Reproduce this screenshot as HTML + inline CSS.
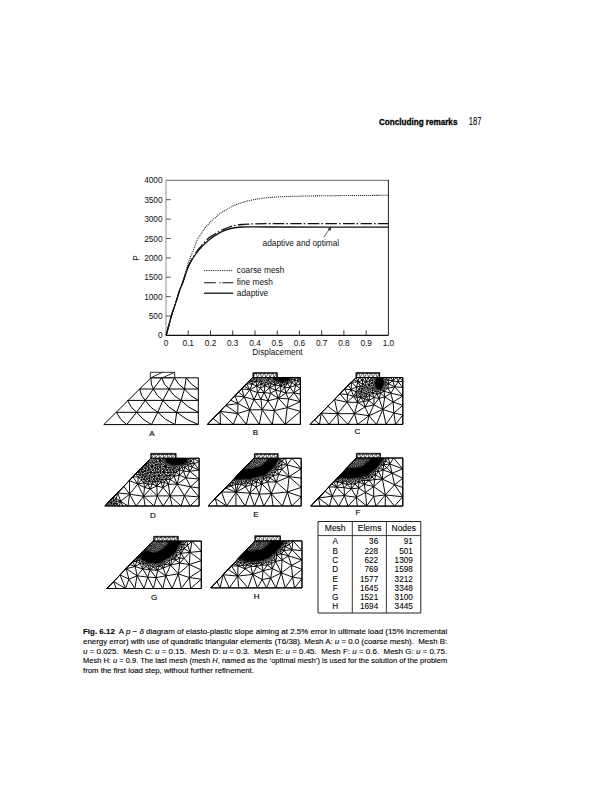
<!DOCTYPE html>
<html><head><meta charset="utf-8"><style>
html,body{margin:0;padding:0;background:#fff;}
body{width:603px;height:800px;overflow:hidden;position:relative;}
svg{position:absolute;left:0;top:0;font-family:"Liberation Sans",sans-serif;}
</style></head><body>
<svg width="603" height="800" viewBox="0 0 603 800">
<g fill="#111"><text x="379" y="125.3" font-size="9.2" font-weight="bold" fill="#000" stroke="#000" stroke-width="0.3" textLength="78.4" lengthAdjust="spacingAndGlyphs">Concluding remarks</text><text x="468.8" y="125" font-size="10" fill="#000" stroke="#000" stroke-width="0.1" textLength="12.6" lengthAdjust="spacingAndGlyphs">187</text></g>
<path d="M166 180.3H388.4" stroke="#666" stroke-width="1"/>
<path d="M166 179.8V335.4" stroke="#9a9a9a" stroke-width="1.1"/>
<path d="M388.4 179.8V335.4" stroke="#222" stroke-width="1"/>
<path d="M166 335.4H388.4" stroke="#111" stroke-width="1.2"/>
<path d="M166 316h4.8M166 296.6h4.8M166 277.2h4.8M166 257.9h4.8M166 238.5h4.8M166 219.1h4.8M166 199.7h4.8" stroke="#444" stroke-width="0.9"/>
<path d="M188.2 335.4v-5M210.5 335.4v-5M232.7 335.4v-5M255 335.4v-5M277.2 335.4v-5M299.4 335.4v-5M321.7 335.4v-5M343.9 335.4v-5M366.2 335.4v-5" stroke="#222" stroke-width="0.9"/>
<g font-size="8.3" fill="#111"><text x="162.6" y="338.4" text-anchor="end">0</text><text x="162.6" y="319" text-anchor="end">500</text><text x="162.6" y="299.6" text-anchor="end">1000</text><text x="162.6" y="280.2" text-anchor="end">1500</text><text x="162.6" y="260.9" text-anchor="end">2000</text><text x="162.6" y="241.5" text-anchor="end">2500</text><text x="162.6" y="222.1" text-anchor="end">3000</text><text x="162.6" y="202.7" text-anchor="end">3500</text><text x="162.6" y="183.3" text-anchor="end">4000</text><text x="166" y="345.6" text-anchor="middle">0</text><text x="188.2" y="345.6" text-anchor="middle">0.1</text><text x="210.5" y="345.6" text-anchor="middle">0.2</text><text x="232.7" y="345.6" text-anchor="middle">0.3</text><text x="255" y="345.6" text-anchor="middle">0.4</text><text x="277.2" y="345.6" text-anchor="middle">0.5</text><text x="299.4" y="345.6" text-anchor="middle">0.6</text><text x="321.7" y="345.6" text-anchor="middle">0.7</text><text x="343.9" y="345.6" text-anchor="middle">0.8</text><text x="366.2" y="345.6" text-anchor="middle">0.9</text><text x="388.4" y="345.6" text-anchor="middle">1.0</text><text x="277.5" y="355.3" text-anchor="middle">Displacement</text><text transform="translate(139.2 258) rotate(-90)" text-anchor="middle">P</text><text x="236.8" y="273.4">coarse mesh</text><text x="236.8" y="285.4">fine mesh</text><text x="236.8" y="295.6">adaptive</text><text x="262.6" y="246.2">adaptive and optimal</text></g>
<path d="M204 270.6H233.2" stroke="#111" stroke-width="1" stroke-dasharray="0.9 0.9"/>
<path d="M204 282.7H215.8M219.4 282.7H220.6M222.4 282.7H233.2" stroke="#111" stroke-width="1.1"/>
<path d="M204 293.2H233.2" stroke="#111" stroke-width="1.3"/>
<path d="M323.8 237.3L330.2 228.0" stroke="#222" stroke-width="0.7"/>
<path d="M331.2 226.6L327.6 229.2L330.6 230.8Z" fill="#222"/>
<path d="M166.2 335.4C167.05 332.20 169.70 321.67 171.30 316.20C172.90 310.73 174.39 306.97 175.80 302.60C177.21 298.23 178.59 293.35 179.75 290.00C180.91 286.65 181.72 285.67 182.75 282.50C183.78 279.33 184.90 274.50 185.90 271.00C186.90 267.50 187.78 264.33 188.75 261.50C189.72 258.67 190.75 256.50 191.75 254.00C192.75 251.50 193.84 248.85 194.75 246.50C195.66 244.15 196.26 241.87 197.20 239.90C198.14 237.93 199.27 236.43 200.40 234.70C201.53 232.97 202.68 231.23 204.00 229.50C205.32 227.77 206.92 225.88 208.30 224.30C209.68 222.72 211.10 221.12 212.30 220.00C213.50 218.88 214.43 218.53 215.50 217.60C216.57 216.67 216.90 215.70 218.70 214.40C220.50 213.10 223.65 211.33 226.30 209.80C228.95 208.27 231.83 206.45 234.60 205.20C237.37 203.95 240.13 203.13 242.90 202.30C245.67 201.47 248.43 200.80 251.20 200.20C253.97 199.60 256.88 199.12 259.50 198.70C262.12 198.28 261.82 198.08 266.90 197.70C271.98 197.32 279.48 196.73 290.00 196.40C300.52 196.07 313.60 195.88 330.00 195.70C346.40 195.52 378.67 195.37 388.40 195.30" fill="none" stroke="#111" stroke-width="1.05" stroke-dasharray="1 0.95"/>
<path d="M166.2 335.4C167.05 332.20 169.70 321.67 171.30 316.20C172.90 310.73 174.39 306.97 175.80 302.60C177.21 298.23 178.59 293.35 179.75 290.00C180.91 286.65 181.79 285.17 182.75 282.50C183.71 279.83 184.62 276.58 185.50 274.00C186.38 271.42 187.08 269.20 188.00 267.00C188.92 264.80 189.88 262.88 191.00 260.80C192.12 258.72 193.50 256.43 194.75 254.50C196.00 252.57 197.34 250.68 198.50 249.20C199.66 247.72 200.07 247.42 201.70 245.60C203.33 243.78 205.82 240.42 208.30 238.30C210.78 236.18 213.83 234.48 216.60 232.90C219.37 231.32 222.13 229.97 224.90 228.80C227.67 227.63 230.43 226.62 233.20 225.90C235.97 225.18 238.73 224.80 241.50 224.50C244.27 224.20 245.05 224.23 249.80 224.10C254.55 223.97 246.90 223.78 270.00 223.70C293.10 223.62 368.67 223.62 388.40 223.60" fill="none" stroke="#111" stroke-width="1.3" stroke-dasharray="11.5 2 1.5 2.5" stroke-dashoffset="0"/>
<path d="M166.2 335.4C167.05 332.20 169.70 321.67 171.30 316.20C172.90 310.73 174.39 306.97 175.80 302.60C177.21 298.23 178.59 293.35 179.75 290.00C180.91 286.65 181.79 285.08 182.75 282.50C183.71 279.92 184.62 277.00 185.50 274.50C186.38 272.00 187.08 269.67 188.00 267.50C188.92 265.33 189.88 263.50 191.00 261.50C192.12 259.50 193.50 257.35 194.75 255.50C196.00 253.65 197.34 251.83 198.50 250.40C199.66 248.97 200.07 248.57 201.70 246.90C203.33 245.23 205.82 242.45 208.30 240.40C210.78 238.35 213.83 236.27 216.60 234.60C219.37 232.93 222.13 231.50 224.90 230.40C227.67 229.30 230.43 228.57 233.20 228.00C235.97 227.43 238.73 227.20 241.50 227.00C244.27 226.80 245.05 226.80 249.80 226.80C254.55 226.80 246.90 226.95 270.00 227.00C293.10 227.05 368.67 227.08 388.40 227.10" fill="none" stroke="#111" stroke-width="1.3"/>
<path d="M150.9 377.8H198.3M139.7 389.0H198.3M127.6 400.4H198.3M116.4 412.3H198.3M103.8 424.6H198.3M103.8 424.6L150.9 377.8M198.3 377.8V424.6M153.4 389.0L161.7 377.8M169.0 389.0L174.5 377.8M184.5 389.0L186.2 377.8M150.9 377.8Q150.6 385.0 153.4 389.0M161.7 377.8Q163.8 385.0 169.0 389.0M174.5 377.8Q177.9 385.0 184.5 389.0M186.2 377.8Q190.7 385.0 198.3 389.0M145.2 400.4L153.4 389.0M162.9 400.4L169.0 389.0M181.0 400.4L184.5 389.0M139.7 389.0Q140.8 396.3 145.2 400.4M153.4 389.0Q156.6 396.3 162.9 400.4M169.0 389.0Q173.4 396.3 181.0 400.4M184.5 389.0Q189.8 396.3 198.3 400.4M136.6 412.3L145.2 400.4M157.8 412.3L162.9 400.4M176.7 412.3L181.0 400.4M127.6 400.4Q130.5 408.0 136.6 412.3M145.2 400.4Q149.9 408.0 157.8 412.3M162.9 400.4Q168.2 408.0 176.7 412.3M181.0 400.4Q188.1 408.0 198.3 412.3M126.7 424.6L136.6 412.3M151.4 424.6L157.8 412.3M175.0 424.6L176.7 412.3M116.4 412.3Q120.0 420.1 126.7 424.6M136.6 412.3Q142.4 420.1 151.4 424.6M157.8 412.3Q164.8 420.1 175.0 424.6M176.7 412.3Q185.9 420.1 198.3 424.6" fill="none" stroke="#000" stroke-width="1.00"/>
<path d="M150.3 377.8H174.7V372.3H150.3ZM150.8 377.8L162.3 372.3M162.3 377.8L174.7 372.3" fill="none" stroke="#222" stroke-width="0.95"/>
<text x="151.8" y="435.7" font-size="8" text-anchor="middle" fill="#000" stroke="#000" stroke-width="0.15">A</text>
<g transform="translate(207.5 424.4) scale(.1)" fill="none" stroke="#000" stroke-width="9.5"><path d="M638-406l38 12 5 52-51 32 78 48-39 124-21 138-130 0-129 0-130 0-129 0-130 0 183-191 226-235 30-31 28 4 18 25-39 25-37-23-19 20-22 23 41-43 40-6-10-25m199 51l-30-1-34 21-44 25-31 43-76-29-33-59 56 3-23 56-55-36-26 28-31 32 57-60-93 97 36-37 57 48-26-80 81 8 42 100-43 101-33 146-87-109-43 109-134-130-125 130 57-59 73 59-5-130 58-61 185-192m270-23l27-17 11 29 35-21 19 31-49 42 27 80 89 95-20 167-129 0-101-146-29 146-96-146-117-63-30-77-42 44-50 51 92-95 93 11 54 129 125 0 122 8 108 138 152 0 0-130-152 130m-139-406l-16 38-48-18-37-16-7 41 36 42 8-67 11-35 23 14 14 39 59 26 53 12-26 68 103 7 118 27 0 98-132-37 132-61 0-75 0-57 0-43 0-33 0-33m-291 63l-17-20m55 32l54 10 43 18 25-44-32 13 7 31-39 36-4-54 36-13m-90 3l13-29m-13 29l-54 26 8 58-25 74 64 98 128-29 14-88 53-61 65 88m-250-241l6 0 4 0 5 0 4 0 5 0 4 0 5 0 4 0 5 0 4 0 5 0 4 0 5 0 4 0 5 0 4 0 5 0 4 0 5 0 4 0 5 0 4 0 5 0 4 0 5 0 4 0 5 0 6 0 8 0 11 0m-148 0l-6 0-8 0-10 0 3 7 7-7 6 6 8-6 1 8-5 5 8 4-3-9 6 2-3 7 6 3 4 0 6 2 2 7-6 4-10-4-20 17m14-46l7 4 3-4 3 7 2-7 5 6 4-6 4 7 0-7 6 4 3-4 3 7 2-7 4 8 0-8 6 5 3-5 4 7 1-7 5 4 4-4 1 5 3-5 5 4 4-4 1 10 4-10 3 7 1-7 2 4 3-4 3 5 6-5 3 7 1-7 7 5 2-5 7 5 4-5 3 5 5-5 5 11-3 10 5 11-25 27 28 39 38 55 65 13m-119-147l8 2 9-5-6-5-5-1 0-10m-6 19l-1-7-8-1 4 5 4-4 7-2-5-5-2 7-5-7-2-5m8 19l-5-3-6 2 2-7-7 2-7-6-9-2 1-5m31 19l-7 4 3 8-8 28-29-7m41-33l5-3 3 5m-15 2l2-7m-2 7l-6 4-8-1 4 11 4-10 9 4m-3-8l-4-5-5-5-8 1 1-7-8 5-5-3-5-2-7 3-2 8 2 5 6 4-2 9-11-2-6-9-9-1 1-5 8 6 8-2 5 0 6-4 0 8 6-3 2-6 5-1 5-3-7-2 2 5 0 6 8 3 5-6 0-7-4 5-1 8-10 6-11-5-9 1 7 8-7 6-5 7-4 10-20 26 2-34 11-5-2-9-8 0-11 2-2-10-8-3-4 10-7-7 5-6-7-1 4-5 7-1 5-5-8-4 3 9 2 10-6-3 4-7 8 4 2 9 8 0 5 8 0-8-5 0-6 10m52-30l4-4 1 7-3 6 5 5-7 1 5 8 2-9 5-3 3 6m-15-17l-3 4-2-6 3-3 2 5m4-4l-6-1m-31 33l6-4 2-8 5-9 6 2-3 5-3-7 8-6-8-2-5-3-5-1-1-4m-2 37l-2-8 10-4 10 3 3-5m-21 14l8 3 5 9-11-3 6-6 6-6-8-1-8-4-6 8m6-8l1-5-6 0-6 5-2-8-6 8m19 0l-6 0 1-5-8-3 1-6-6-1-6-3-2-7-1-4m27 29l-5-5 7-5 3-8 5-6 8-1 0-4m11 19l6 5m-6-5l-8-1m8 1l-6-9-5-6-3 4 0 8-6 1 1 8m19-6l8-1-5-5-9-3m6 9l3-6 8-1m-22 11l2 5-4 6 4 8-10-2-2-7m62-21l6 4 6-5m-5-1l-1 6m-286-16l-16 22-28 19 35 4 26-7-9 29-17-22 15-24m160 12l-1-8 5-3-1-8-5 6-3-6-7 3 2 12 4-9 1-6-4-4 0-6-1-4m-452 227l72 33-122 18 119 82-177-21-68 71m490-87l-82-101 34-71 35 66-69 5-97-28-63 66-3 100 120-37m125 0l58-90 103-26 76-52 80-2 65-44-48-30 48-13-26-31 26-2-17-33-9 35-8-35-23 27 6-27m-331 323l-13-106 71 16-39-83-67 1-6-66 37 23m224-92l-4-5-1-6m-1 12l-4-6 0-7-6 3-6 4-5 4 6 2-1-6-1-6-1-5m18 17l-7 2-4-6-5-2-7-3 2 7m21 2l2-6 4-3m-10 3l-7 2-4 4-7 4-5-7-3 6-6 6-5 2-6 1-7-4-1-5m51-9l-6-4-7-2-6 3-4 6-5 1-1-4 4-4 2 7m23-3l6 0m-12-4l-1 6m127 140l17-74 22-44-31-8-11-27m-154 7l-8-1-1-6m9 7l6-3 6 3 6 1m-18-1l-3 5 6 4 6-1 2 5 8 1m-96 138l-64-9-32 67m347-138l-55 19-53 5 11 52 27 59m70-135l-38-29-45 9m83 20l-9-52-30-10 1 33-17 48-42 57-50-16m52-119l-5-3m5 3l0-6 4 4 4 2 3 7 2-9-5 2m-8 0l4-2m-216 65l-11-31-26 15-44 18-70 37-55 72m321-174l5 5-9 4m102-22l8-2-2-5m-227 150l56-49m112-77l-1-7 8 2m63-14l-3 6-6-6-1 8m10-8l7 0m-7 0l-9 0m-96 1l-7 1-6 3m13-4l5 6-1 5 3 6 1 5 1 8m-9-30l-1 8 5 3m-183 28l-27 40-47-19 3-29-24-10m184-27l-16 24m16-24l19 19m-19-19l2 27m87-13l-8 0 2-7-6-3-6 4-9-2 2-6m25 14l-6-7m6 7l6-2m-33-6l4 7-4 11-7-7 11-4m-190 28l8-26-26 1-18 21 36 4 8 44m379-58l-29 23-20-18m-159-15l-6-10m121 25l2 11"/><path d="M689-423l22 8 21-3 18 8 16 13 3-20-3-16 15 7 17 16-5-22 13-6 17 1 19-15 19-17 17 0 17 0 17 0 17 0m-240 46l-24 0-8-15-16 8-3 24m51-17l6-13 13 3 3 18 11-15 10 12 1-14 10 9 7 13 19-7-15-3m-65-3l19-10 12-7m-31 17l-4-17-14-5-6 22-24-7-13-20 13-19 14 0m206 0l-17 0-17 0 15 17 2-17m-85 42l10 10 12-9 12-6-14-5-13 4m-109-5l14-7 12-7m-26 14l-9-11-7-20-16 0-16 0-16 0-16 0-16 0-16 0-16 0-16 0-16 0-16 0-16 0-14 0-12 12-14 15-16 16m248-12l7-14-16 3-20-1-3-19m217 17l-15-1 0-16-6 11m2 21l4-16m-119 20l14 3m-202 6l-7-23 0-22-20 15 4-15m124 43l-13 19-5-21-10-17 0-24-17 13 1-13m44 43l7-24-17 8-18-3-24 8-23 6 17 14 6-20 16 16 8-24-17-11-15-13-6 17-10-17-10 21-6-21m92 43l-10-16-8 14-18 7-22 4m58-9l20-4 7-19 10-13-17-7m-20 43l-18-2m55-34l13-1-7 11m-197-1l14-16 12 15 20 7 22-1 11 17 9-21 14 15 7-19-21 4-20 4m-68-5l-2-16m2 16l-16-16m367 21l-12 10 4-12" stroke-width="6.0"/><path d="M696-518l-30 49-42 0-42 0-42 0-42 0-42 0 30-49 12 49 30-49 12 49 30-49 12 49 30-49 12 49 30-49 12 49 30 0 0-49-42 0-42 0-42 0-42 0-42 0-30 0 0 49" stroke-width="6"/></g>
<path d="M253.3 377.5V373.2H276.9V377.5" fill="none" stroke="#111" stroke-width="1.3"/>
<path d="M207.5 424.4H300.4V377.5H252.6Z" fill="none" stroke="#000" stroke-width="1.0" stroke-linejoin="round"/>
<text x="255.5" y="435.0" font-size="8" text-anchor="middle" fill="#000" stroke="#000" stroke-width="0.15">B</text>
<g transform="translate(310.0 424.4) scale(.1)" fill="none" stroke="#000" stroke-width="9.5"><path d="M668-389l-10-1 9-5 2-6-7-7 0-11-1-11 11-2 6-8 0-8 6 0 8 2 0 4 4 1-4-5 4-5 4-1 4-5 7 4-5 3-6-2-4-6 0-11 4 0 4 0 5 0 5 0 7 0 11 0 1 12-11 1-6-5 5-8m-53 80l-1-6 6-1-4-5 2-7 6 0 4-5 8 0 7-1 8 0 6 2 1-5 1-7 0-5-5 1 5 4 6-2-6-3 5-4 4-6 10-4-5-7-4-6-6 1-5 2-1 7 3 7 8 0 6 10 10 7-8 3-7-1 3 7 4-6-2-10-5 9-4-6 9-3-10-4-4-6-7-1 4-6-4-4-2-7-8-1-7-4 7-7-5 0-4 0-5 0-5 0-7 0-10 0-11 0m19 80l-2 7 9 3 7 1 2 7-3 5-8 5-12-2 6-9 8-7 0-8 6-5 5-4 4-6-5 0 1 6 5 5 6 4-6 2 0-6-5 1-5-2-4-5-4 1-1 4-5-3-5-4 0-9-9 6 1-11 8 5 9 0 5 6 1-6-4-6 8 1 5 5 4 6 8 3 5 5 6 2 0 7-2 7-6 0-6 0-4-7-3 6-6 1-5 6-4 11 11 3-3-8 6 1-3 7 7-2 7-1-5-4 3-4 2 8 6 8 9-6-2-11-4-8 7 0-5-7 5-4 8 1 8-8 5-8 8-6-11-2 5-10 2-12-8-9-8-2-2 6-4-5-4 5-5 5 4 5m-44 40l7 2-9 5-8-8 4-9 7-2 7-1-3 6 3 3 5 1 3 7-2 7-2-6-5 5 2 7 4 6m-13-23l4-3 3 5 1-6 1-4 4-2 0 7-1 8-5-3m34 2l-6 2-6-4 0-6 6-1 3-5 6 0 6-2 6-5 11 2-3-8-3-7m-20 34l-6-4-6 2 0 5 4 4 2-5 4 5-4 7-5 10 8-1 7 3m-4-26l7 2-2 5 9 5-12 3 3-8m71-29l62 32 81 90 0 95 0 95-73 95-95 0-95 0-95 0-95 0-95 0-95 0-95 0-95 0-95 0 45-46 50 46 17-113 78 113 87-107 8 107m500-407l-28 4m28-4l-6 45 68-13 81 5 0 85-120-27 39-63 35-50 46 55 0-60 0-39-30 0 30 39-46 5 16-44-30 0-30 0-30 0-30 0-29 0m36 62l-30-18 26-18 27-26 20 33 40-33 14 44-54-11 10-33m-53 62l-27 24 21 21 29 50-60 38-20 124-63 150-75-87-115 87-30-108-65 108-103-107-32-142 169-173 26-26 21-21 30 0 30 0 30 0 30 0 30 0 13 27 9-27m152 62l-4-36-3-26-27 21 30 5 47 7 19 61m-62-32l43-29m-383 328l105-67 89-20 89 45 32 150 79-114 16 114 73 0 0-95-89-19 89-76-97-34 97-61m-483 177l-168 1-99-74 236-241-31 32-37 38 68-70-114 117 46-47 66 4 2-74-369 376 133-135 67-68 55-56 70 83-125-27m200 141l-75-114-93 115-165-6 66-68m267 73l31-112 74 45 39-65 50 45 52-65 37 110 111 36-8-110-103 74-138 63-20 87m-125-108l145 21-40-88-14-53-27-39-33 47-106-2 65-58 41 60 60-8 53-12 9-49 26-23 32-20 30 2 20 19 42 37-57 14 15-51 3-30 31 9 68 20 23 88-83-50-8-58 39-30-36-1-3 31-34 21-37 8-13-29-32-9 0-27 15-24-17-20-32 13-15 31 7 27m100-37l6 4-4 3 3 6 6 0-3-4-6-2-7-1-10 0-1-10m-121 18l30-4-21-22 36-9 10 24m-55 11l9-26-28-14-46-21 11-44 34 29 26-29 11 43 19-43 17 36 13-36m-66 105l-27 7 20 17-25 13-26 2-26-1 3-50-50-46 66-3-19-44m57 112l-28 6-26-25 16-49-40-23m78 91l-15-25-39 6-52 28-29-42m135 33l-5 30 27 12 26 10 32 16-33 12 24 37-41-16-39-11-37-2-37-11-23-68 49 22-26 46-59-19-30-53m175-117l4 29-45 15 23 43 23-22-1-36 37 14 28 27 25 10m99-25l-4 2 4 2 3 4 1 5-2 6-4-4 5-7 7 0 1-7 7 1-8 6 6 10-8-2-4-3m-4-13l-3-3-7 3-4-5-4 5-3 6-3 6 2 6-6 0 0 6 5 5-7 0 4 6 7 1-2 4 3 5-6 0-3 4 4 5 2-5m21-49l0 4-4 5 0-7-4 3-2-5 2-7 1-7-5 2-6-5 1 7 5-2-2 7-3-5-6-2-4 3-2-6 0-7-7-4-10 0 4 8 7 0-1-8 6-8-3-5-3 5-6 0-2-11 7-10 4 8 6-8 2 7 2-7m23 55l2-5 6-1-3 8 5 6-2 8 0 10-6-7-2 6-5-3 3-7-2-6 7-1 2-6 6-1m-11-1l5 2-5 2m-126 92l10 29 42 20-1 74-49 108m-2-231l36 6 0-29m-36 23l-27-10m145-81l-3 5-5 5-1 6-6 2 1-5 5 3 6 4 0-5m3-15l-6 0-4-5-4-5-5-4-6-3-4 4-4 2 2-6-3-6-4 8 5 4 0 6-2 6-4-5-5 5m44-1l4 4-7 1-3-5 4-5m-228 194l-4-49-8-25-29 14m257-139l-3 6-3 5-1 6-4 3 5 3m6-23l5-5m-5 5l8 0 6-2 5 4 5-2-4-5-6 3-4-5 0-6 5 4 1-6-2-6-6 3-4 6-6-1-5-4-6 4-4 6 2 4 4 2 0 7-4-5-4-2-5 2-6-1-8 6-10 1m48-7l-1-7 5-5-4-6 0-5-5 0 5-4 9 1-1-7m-8 33l-6 2-5 4 0 8-4-3m13 6l6-3 7 1 3 5 3 7 7-3 6-3m-18-59l3-6 2-6 2 5 3-5 2 8-5 3 0 5 6 4 5-7m-18-1l7-1-4-5-3-6-3 5-1-5m4 12l-3-7-5-5m-6 37l-5 3-6-3 2 6-6 0-7 2-7-6 7-10-3-8 5-11 0-10m20 37l2-5-7 1 2-6-9 2-6-8-4 8-10-2 3 12-8 8-8-9-23 19 2-30-26 9-8 34m100-33l1 6-6-3-4 3 0 6 6-3-1 6 3 4 4 5-7 0-5 3 4 3m-110 34l26 15 23-15 27-6m35-43l-5-3-4 2 0-4m23-15l-4-4 5-4 5-5m-6 13l1-8 5 5m-6 3l-8 0 4-4m4 4l2 5-6 1m4-6l8 3 9 1 1 7-2 7 3 7m-27-25l-5-5-3-6 6-6-1-8-8 1 1-8m35 25l-7-2-9 1-5-6 0-7-6 4 2 8m25 2l6-1 3-5 7-7m-16 13l0-5-7 3m-410 141l76 6-6 77m196-83l-1 28-20-17m79-74l23 15m-58 113l51-29-16-43 45 9 17-27m3-132l-4 6-1 8m-220 154l-3-32 29-25-3 26m219-37l5-8-8-1-2-7-3 4-2 5 7-2 3 9-2 9-11 4-2-11m17-74l-6 2m-26-22l2 6m-2-6l-6-5 11-2 0 8-5-1 5-7 4 5-4 3m-5-1l-4 6-7 0-8-7m-545 342l-67 67m635-338l4-1 2-5m36 2l-6 5 7 10m-7-10l-2-6m12-61l-9 1 6 4m-27-13l5-6 6 1 4-1 5 3 0 6-5-3 0-6m-20 79l6 3-2 4 3 4-5 0-5-5 0 5 5 0-3 5-2-5m9-8l6-1 0-6 6-3m31 60l-15-22m-48-64l-4 4-6 1-5-6 6-5 0 6-1 5m29-38l-6-3-5-2m-32 54l9 3m-8-14l-1-9 9 3m11 5l-5-4m8 16l1 5m-1-5l5 3 0-6-5 3m22 3l-6 3m6-3l8 0 4-6m-12 6l-2-6-3-3 7-1-4 4m-72 93l-21-20m114-117l-1-6m-51 7l-7 6m-246 94l-36 49m137-28l-14 25 10 35 14-29-10-31-23-24 13-31 26 4 25-12 8-36-36 22 3 26m147-15l-4 1m-110-34l36-7 24 21m-86 184l12-28 17-21-28 0-28 10-25-20m219-84l-5-3m-7 114l-51-9 29-34 22 43"/><path d="M664-350l-8 18-9-21 17 3 9-11 4 15-13-4-3-13-10-11 7-16-19-2-24 3 9 21-24-7-25 7-15 19 22 8 6 23-22 13-21 11-5-21-2-25 7-24-16-14-11 21m143-6l-14 10-23 12-21 9-21-9-21 13-23-12 22-9-15-15m99-48l1-19-21-11 18-9 7-18-16 0-22 0m33 57l-5 20 12 18-4 21m-3-59l-22 0-7 23-15 14 1 22-19 12m62-71l9 10 5 12m-14-22l9-10m78-21l20-5-2-21-17 0-10 13-1-13m10 26l-4 14 12-5 12-14 4 23 2 22-14-7 12-15-18 3 6 12 1 15 13-8 1 20-15 20-18 9-16 13-23 11-9-16-21 14m75-111l2-14 16-12m-26 96l20 10-7-19 22-1-14-12-9-9m-12 31l2 19-12-5-4 18-5-12m19-20l-1-15 14 6-13 9-10 14m-40-2l-6-11-16-2 15-8m-129 105l8-17-22-2 17-19 21-13 5 23m-29 28l-14-19-24-6-12-23-9 18-17-19m76 49l11 21m150-105l-5 12-7 19m7-19l-9-9-7 12 16-3 16 8m-231 34l21 5-15 15-12 18m6-38l-14 13 20 7-6-20m277-118l-16-9m12-14l-18-9m-172 129l-1-21m97-106l3-14 10 10-13 4-8-14m8 14l1 13-13 11 16 1m-4-25l-15 4-9-18m6 77l14-10m-8-29l-3-20 16 9m-70 124l15-14-2-21 23 12m120-54l-14-1 6 14 8-13" stroke-width="6.0"/><path d="M696-519l-25 50-42 0-42 0-42 0-42 0-42 0 25-50 17 50 25-50 17 50 25-50 17 50 25-50 17 50 25-50 17 50 25 0 0-50-42 0-42 0-42 0-42 0-42 0-25 0 0 50" stroke-width="6"/></g>
<path d="M356.3 377.5V373.1H379.4V377.5" fill="none" stroke="#111" stroke-width="1.3"/>
<path d="M310.0 424.4H402.8V377.5H356.1Z" fill="none" stroke="#000" stroke-width="1.0" stroke-linejoin="round"/>
<text x="357.5" y="433.9" font-size="8" text-anchor="middle" fill="#000" stroke="#000" stroke-width="0.15">C</text>
<g transform="translate(104.8 506.0) scale(.1)" fill="none" stroke="#000" stroke-width="9.5"><path d="M745-415l-10-6-8-1 3-4-4-6 7 0-3 6 5 5-5 6-3-7-6 1-1 9-10 2 4-10 6 8 10-3 2 11m13-11l-4-7 3-4 5-5 9 3 8 7 5-6 5-3 7-2 6 10 4-10-10 0-7-7 0 9-7-4-6-5-1 6 7-1 2 7 7 6-12 0-1-7-3-5-4 5 7 0 6 1m-26 12l6-9-7-2-7 0-7 0-7-1 3-5-3-5-4-4-6 0-4-9-3-9-8 2-6-5-7 3-8 2-1 7-2 6 4 7 4 8 6 0 3 4-6 1-3-5 6-7 8-3 2-9-7 5 5 4 6 5 2 6 6 3 2-8 1-8-6 4 5 4-5 2 3 6-8 4 2-7 3-3-5-3-4 7 6-1m40 2l-4-7 0-7 6-4-4-5 0-6 4-5 5 7 1 6-6 3-8-2 2 6-5 3-2 5 4 6-2 5 6-1-4-4 3-7-7 1-4-5-3 5-8-2-5-7 2-7 7 0-2-6 3-7 2-8 0-8 5 0 4 0 5 0 4 0 5 0 4 0 5 0 4 0 5 0 4 0 5 0 5 0 5 0 7 0 9 0 10 0-9 7-1-7-8 6-1-6m-130 56l7 4 1-10-8 6-12 3 6-10-1-8 8-2 3-6 8 0-4 6-7 0-4-6-4 8-8 5 9 3 6 7 1-7-7 0 4-5-5-3-1-7 1-7 0-7-2-7 0-8 5-5 4 0 5 0 4 0 5 0 4 0 5 0 4 0 5 0 4 0 5 0 4 0 5 0 4 0 5 0 4 0 4 4 5-4 0 7 5-7 3 4 6-4 4 7 0-7 5 5 4-5 0 8-4-3 0-5m-62 57l-4-5 7-2-3 7 1 10-10-6 5-9 3-7 2-7 6-1-4-8-4-5 4-4 1-8-7 3 2-8 4-7 3 5 6-5 5 5 4-5 2 8 3-8 4 8-7 0 5 8 6 0-4-8 4-4 1-4m-35 57l-9 4-1-8 3-5 0-7-10-1-8-1-4-6-7 0-4-6-6-4 6-3 4-3-6-4 5-3-5-5 0-5 5 0 1 4 3-4 3 7 2-7 6 5 3-5 5 5 4-5 3 5 6-5 0 7-6-2 1-5m6 57l7-1-4-6-4-5-6 3m-508 429l-36 0-26 0m62 0l52 0 81 0 90 0 90 0 90 0 90 0 90 0 90 0 90 0 0-90-90 90-57-103-33 103-111-101-69 101-59-101-31 101-105-97-75 97-65-118-16 118-73-47-15 47-24-22-23 22-3-27-16 27-13-32-5 32m120 0l-21-47-31-85 62-65 226-234 29-30-408 422 379-392-44 46 30-31m472 27l69 29 0 90 0 90 0 90-86-102 86 12m-69-209l22-34 47 63 0-83 0-34-61 0 61 34-47 20-14-54-34 0 15 28 19-28m-8 88l-24 42 93 77-130-11-90 62-88 2 20-48 68 46 134 27 86-78m-69-119l-45-17-27 19-31-1-25 27-1 53-22 89 73 116 147 13m-69-299l-19-34-25-12-1 29 21 59 93-13m-114-46l-27-14 0 33 48 40-37 66 44 89-61 89-144 2 21 101m156-406l-14-27-5-10-8 6 0-10-8-3-8 1 0 6-6-2-6-1 2 7-7 5 0-9 5-3 4-5 8 2-6 4-4 6-7-4-6 4 0-9 6 5 1-8 4 5m55 40l26-17 41 0-33-26-8 26m-103-18l-6-3 1-7 4-2 7 2-6 4-5-4-5-4-5 3 5 3-4 3-5 4 7 2 6 2 0-6m6 3l0-6 6 4 5 4-8 3 7 3m-10-8l3 5 3 8 0 11 8-4m-14-20l6-2 5-5-5-3 0 8-3 7-6 5-9-2-5-4-2-5-8 0-3-6-3 7-4-7 5-6 7 0 2-7 3 6-5 1-5 6 8 0 2-7 5 3 1 6-8-2-3-6-4-7-6 0 1-8-6 5-6 5-7-6 2-7 2-5m49 36l-6 3 3 7 2 7 7-4m-149 35l-3-31-24-13-32-14 14-26m45 84l-7 27-8 28-1 27m16-82l33 11 26-2-15 25-20 25 19 29 3 40 38-31 30 77-71 118-17-116-53 33-58 83-69-69-58-16-68-33-47-73 26-27 108-112-73 76 29-30 14 22-28-7 18 28-33-13-35 36 20-20 26 29-46-9-118 122 92-95-36 38-56 57-105 109 43-44 120 14-2-136 83 35-81 101-58-79-153 158 48-49-21 22 1 34-28-7-25 26m597-380l15-27m-15 27l29-12m-29 12l-22-22m22 22l-29 22-27-17-15-31-31 6 19 18 12-24 12-32-7-26m66 84l15 31 9 28-39-4-22 29-34 7-36 2-11 30 14 27 28-2-13 45-65 30 19-51 31-22-28-5 14-22 30-3-16 30 15 43 4 99 128 0-70-83-62-16-46-21 3-27-31 0 1-29 2-29-18-24 31-9 21-22-10-36-32-18-10-31 28 14-14-29m164 68l-32-3m-462 322l13-58m-13 58l-30-14-35 36m65-22l44 27 89-71 140 21 15 97m-288-74l-26 19-4-33m30 14l-1 28 45-1-39 25-26-5-29-5 24-23-25-11m746-377l-8-4-7 5-1-8 0-8 7-1 8-5-7-6-9-1-8-6 0 8-5-8-3 7-2-7-4 6-1-6-4 5 0-5m44 34l1-7-9 3-2-6-6 3-4 6-4-5-3-8 4-3-2-9 8-2 4 7 5-6 0 6 7 0 6 8 6-9-12 1-3 9-5-4 1-5-5 0 4 5-1 6-6-5-7-2-8-3 6-6-8-1-4 6-2-7 6 1 2 7-6-1-7-1 5-6-5-1-5-5m49 34l8-3-3-10-9 1-4 8m-162 6l-5 1 4 5 8 4-9 7 1-11-8 1-10-1-2-9-8-7 9-1 0-8-6 3-3 6-4 11m33-1l-1 6 6-3 2 7 3-9 5 4m-15-5l4-3-1-6-2-7 8 3-6 4 7 3 5-3 7-2-7-5-7-3-7 3 3-6-5-1-6-3-7-3 1-7 6 0 6 0 5 0 5 0 4 0m-13 36l-4-5-1 6-4 6 7 10m2-17l5 3-1-6 6-3-1-7-1-6 5-4-7-4 3-9 4 5-7 4-2-9-5 6 0-6-6 4 0-4m55 41l-3-4-7 3 2-7-4-6 7-2-6-5 3-5 5 3-2 7 3 6-1 6 6-3-5-3-6 2-6 0-4-5 6-1-6-4 7-3-2-5-4-4-6 2-7-3 1 7 6-4 0-6 6 4 6 0 3 4-5 0 2-4 4-6-1-5m8 41l3-7-1-7 8 2 8 4 7 3m-25 5l6 4 8-2 5-3 0 6m-53-12l5-1 3-8 4 8 4-5-8-3-3-8 6 1 0-5 6 4 6 3m-23 14l-4-4 0 7 4-3m31 3l-5-4 3-8 7-4 2-6-7-4 3-6-7 0-8 0-2-5m54 8l9-1-5 9 8 1 5 5m73-1l-4 6-5-5-6 2m-276 352l-136 4 67-73-24-46-34 30-7-46-61 13 5-72-26-28m89 133l-9 89-59-122 36-40 7-28-38-4-52-1m96-21l-6 26-18-23-20 19 31 32 25 27 26-14 30-2 28 27-43 5-41-16 5-34-23-21 30-8 2-27 27-8 3-27 5-28 2-30-25-16 1 27-30 4 20 23-35-8m6 72l26-9-28-20 31-5-21-16m-8 50l-2-29m2 29l-22-17-13-25m35 42l24 18 19 25 26-7 24-12 20 19m303-188l3-6-6 0-6-5m9 11l-5 3 5 5m0-8l-3-6 2-7m-428 212l30-7 21 20 15 30 15-32-25-22-26 4 7-29 27 4m109-11l20-26-28-8 8 34 24 16m-24-16l-17 29-19-27-4-31-15-30 20-22 4-30-34 16-34 12-32 8 27 20 28 18-13 33 28-8 25 14-31 11-22-17m89 4l10 34-15 23 28 9-41 36m270-244l5 2 7 5-9 5 2-10-6 4-6 6-5 11-2-9m14-14l-4 1-3 4 0 7m7-12l-1 6 4 6m-362 102l-24-17 27-10 24-10-19-18-22-19 24-11m-34 68l0-30 10-27m339-63l-4 4-6 3 1 9-5 2m14-18l1-5-5 2 0 7 7 0 7-2 3 6 4-5 2 7-6-2-6 2 0 9 7-3 5-6 8 0-4-6-4 6 3 6 2 6 3 6-7 0m-20-28l-4-3-5 2 1-9m8 10l3 4 4 6-5 6-3-6-4 4m5-14l5-2 5 4-3 8 7 6-1-8m20 4l-3 6m3-6l-2-5 4-4m-2 9l-6-2-5 6-8 0m-176 113l-36 10-1-26-4-34-27-7 3 26 24-19 11-30-26-1-21-24 5-34 28 26-33 8-10 30-21-18-13 34 30 14 26 14 1 33-32 5-36-8 15 25 21-17 10-24 22 19 27-18 37 16-14-33-23 17-28-15m65 31l30-24 18-20 19-22m-67 66l21 33 18-29 31-1-12 30 41 9 52-12 68 27-26-66 15-40m-161-70l-2-7 7-4-2 5 4 3-2-8-7-3-6 4 0-6-6-4-8 0-9 0-12 0m43 20l-8-2 0-8-6 4-7 3 0-8-1-9 7 7 7-3 6 2 0 7-6 5-2 7-4 4-7-4-6-5-6-7m33 7l-5 4-5 1 5 6-9-2-8 4 1-8 6-3-6-5m163 21l6 1-3-5m64 96l-63 0-42 39-28-28-24 40-4-38-7-31 23-16m-72-78l-6-4-1-7-6 2 7 5-1 8 5 3m2-7l3 6 7 3-7 4 8 2 6 4-5 2m-12-21l-7 4 1 7 2 7-8 6m168 13l-11 1m-376 126l22-14m257-163l4 6 0 7 5 3 8-1 5 5 3-7 0-9 1-9m-34 5l-2 6 0 6 4-2m-2-10l4 6 8 0-5 4m-7-10l-8 2-7 3 1-6-6 1m6-1l6 3m20 46l-8 2-8 5 5 5 6 9m37 67l29-25 2-33m-31 58l-28 2 14-22m14 20l3-28 26 3-19-24m39-80l0-7-5 3-2 6-4 6-3-6-5-5-1 8 9 3 8 0m-77 11l4-4-7-2m-96 162l-11 25-15 29 21 52 14-55 39 22-22-51 42 3-22-21 19-19-37 0 18 19-20 18-17 29-35 3-13-32-27-5 12 28m54-45l26 22-37 3 20 26m-9-51l28-15-2 37m-37 3l-28-3m207-168l-9-2-6 5m6 72l41 14-16-41m-136-52l-6-1-10-3m79-4l5-4 6 2 6 2-2-8-7-3m-4 19l0 6m0-6l5 3-1-7 3-6 4-6 7 2-3-7-5-3 0-8 0-5m-10 37l4-4-3-8-9-1-4-3 0 6 4-3m24 19l1-7 6-1 5-6 3 6-4 5 6 0m-17 3l-6 1 5 6-7 2 4 5 7-1 9 6m-12-19l5 7 4 5m-9-12l5-3 2-5 4 5-6 0m-5 3l-1 7 4 6 2-6-6 0-3 7-7 3 3 7m27-50l-5 5m5-5l9 0-5-6 1-7 1-4m-6 17l0 8-7 4m7-12l-3-10 8-3 5 5-6 2-7-4-5-3m8 13l4-6m-81 33l3-5 4 5 3-5 2 5 6-4-2 7 6 1-5 7-7-5-3-6-7 0 3 5 7 1 2-6-5 0-4 5m47 3l-3 8-5-4m16-48l-6-3-6 4-5-4-7 2 5 5 7-3 6 4 1 8 4-5m-24 165l-19-21m67-105l10-2 7 7 1 12 11-4m-139-25l-2-7 7-5 0-7m46 88l-29 6 11 24 18-30 7-26m-24-68l6-1-1 6 0 5m-5-10l-3 7 8-2-5-5m29-11l-9 4m-357 127l28 9m90 82l20-18m110-193l-26 8 14 33 18-19m-120 98l-4-28 15-30-14-35 27 1 31-12-24-12m177 28l6-3 1 8 9 6m-10-14l-4-3m5 11l-3 10m-21 53l-29-3m145-72l-4 6m-279-3l-16-23m33 71l5 28m320-97l-10 6-7-4m-788 450l2-26 17 26m52-27l-5-28 25 9-20 19"/><path d="M621-435l-15 11 18 4-3-15-14-5-1 16-19 9-23-3 13 22-24 8m71-32l14 15 4 23 11 23m-29-61l14-4 0 19 12-13 11 14 19 1-12 19-7-20 8-13m-45-3l7-14m-594 395l13-13 14-14m-27 27l-12 13-13 13-12 13 23 0 19 0 18 0 18 0 19 0 21 0 2-22-6-24m-77 7l10 20-5 19m5-19l13 19m-13-19l-22-7m22 7l18-13-15-20m588-353l23 1 1-17m-64-56l-14 0-20 0-21 0-21 0-21 0-21 0-19 0-16 16-14 15-15 15-14 15-15 16-15 15-14 15-15 15-15 16m270-138l-6 12-8-12-8 18-12-18m34 0l10 13 2-13 10 9-12 4-16-1-16 6 6 22 5 22-10 19 3 25 22 5 22 4m-16-102l3 13-15 0-4-14m16 1l12 4m-12-4l-12 13-14 14 25-3-11-11-20-8m252 7l2 17-15 2-13 13-16 13 16 20m26-65l12-9 8-16-22 0-15 0-2 13m19 12l-13-4m13 4l-7-13 5-12 14 16 23 12-19 5-14 9-12-11-3 13-13-4 0 17-13-2-3 15-15 19-23-6-3-21 14 10 12 17-1-21 16 2-8-14-8 12-4-12m62-31l16 8-4-17-19-4-10-12m-108 79l2 17 15 17 7-21 21-9 11-11m-56 7l7-12-14 0-16 7 9 12 16 10 22-4 5-19 13-11-15 0m-27 17l-7-12-7 19-21 7 14 19 21 9 2-25 11-17 11 13m-24-13l-14 7m14-7l13 0-6-12m10 46l-17 8 14 20m-247-118l10-23 13 22 8-22 8 16 13-16m-52 23l-9-23m9 23l-25-7m25 7l23-1-7 24m-16-23l-11 22-18 17m239 12l6-13-12 4-13 8m-14-27l3 13-12-6m206-20l11 21m-85 14l-12-8-13 2m-13 11l16 10m-16-10l-12-8-4 14 16-6m-139 93l-21 2-14-19m35 17l-6 21-15-19-10 23 14 21m17-46l22 6m92-112l-11 7 6-11m-115 131l-25 4-14 18m104-37l22-12 15-17-25-1 10 18m128-103l-9-12m-186-8l12-4m-607 431l11 13m379-416l15 12m121 102l-20-15-16 17m-4-31l20 14 12-19m-53 22l-6 25-5 23 25-4m2-185l16-6 8 18m-59 76l25 6 25 6 21-14m-3-26l-23 12m-96 36l-3 25 20 13 25 3-20 15 18 14 19 11 11 18m-61 2l5-24 8-21-5-18 7-21m-24-47l-21 14-10 21-20 12-2 20 24-3" stroke-width="6.0"/><path d="M711-526l-40 49-42 0-42 0-42 0-42 0-42 0 40-49 2 49 40-49 2 49 40-49 2 49 40-49 2 49 40-49 2 49 40 0 0-49-42 0-42 0-42 0-42 0-42 0-40 0 0 49" stroke-width="6"/></g>
<path d="M151.1 458.3V454.0H175.7V458.3" fill="none" stroke="#111" stroke-width="1.3"/>
<path d="M104.8 506.0H199.1V458.3H150.9Z" fill="none" stroke="#000" stroke-width="1.0" stroke-linejoin="round"/>
<text x="152.8" y="517.7" font-size="8" text-anchor="middle" fill="#000" stroke="#000" stroke-width="0.15">D</text>
<g transform="translate(208.0 506.0) scale(.1)" fill="none" stroke="#000" stroke-width="9.5"><path d="M335-216l-55 78-94 138-93 0-93 0 264-275 73-76 103-107 19-19 11 0m-135 261l-33 0-22 78-1 138-93 0-51-140 39-41 44-46 46-48 28-29 45-47 28-29 75-78-28 30 19-20m-96 232l40 24-95 54 92 138-93 0m56-216l-1-36m1 36l34-11 29-5 39 17 48-24 53 17 95 98-75 124-93 0-93 0 46-128 47 128 49-119 44 119 93 0 93 0 93 0 95 0 0-93-95 93-43-140-50 140-111-124 18 124m-316-216l22-30m-22 30l-20-27-13 27-27 0 5 78-106-43 26-27 18-19-145 151-73 76m431-308l7 5 3-8 7 4-10 4-2 10 8 5-1-8-5-7-10-1-6 1 1-8 8-3 0 6-8-3 5 7 3-4 5-2 2 7-10 6 8 4 7-3 6 2-5 6-7 4-1-9-8 6-6 7-10-3-4-7 4-7-7 1 3 6 7-1-3 8 3 9 7-6-2-7-8 4-7 8 10 1-4 11m17-41l0 7-6-6-3 6-7 0 3 6 4-6 9 0 0 10 9 3 6 9m-47 10l-1-12 0-8-6 4-7 9-9-8-3-9-9 3-3 9-5-10 8 1 1-8-5-7-6 5-6-4-8-3-6-7 7 0-1 7 5 7 3-4 5-3 7 2 8-1 6-1 7 3 3-6 7-2 5-8-1-9-1-8-5 0 1 5 5 3 10 1 1-10 6 3 2 6 7 2-2-9-5 7 0 6 7-4 6-5-8-4 3-12 3-10 5-2 7 4-2 8 3 6 6 4-9 2 3-6 5-6-6-8 4-8 6-6 4 9-10-3-5-8 11 2 9-3 8-2 9-4 10-1 8 2 0 8-4 4 8 2 0 8-6 4-1 6 1 7-8-3 7-4 10 0-9 7-2 8 8 5 10-4-9-5-1 9-8 4 0-9-8 1-4 6-2 6 6 6 5 5 0 8 12-2 9 7 2-11 9-5-4-8 3-8 12-1-4-9-4 4 8 5 2 10-2 10-11-3 4-9-8 1-4 6 8 2 7-3 4 6 10-4-8-6 10-4 12-2 11 3-3-8-8 5-4 11-10 1 2-10 8 9 8-3 7-5 9-2 9 2-7 10-2-12 5-10 10-6-8-4-2 10-9 1-5 11m-164 39l10 2-2-9 9 1m-17 6l-6-4-7-2 0 11-10-1-6 8 0-10-8-2-10-1-8 2-5 9-9-1-9 3 5-10 2-8-4-6 0-5-8-2-6 4-8-2-4 6-3 7 6 5 10 3 9-5 8-5 6-2-3-6-3 8-7-2 3-4 7-2-7-3 5-6 2 9 6-5 4-7 6-3 2 6m50 23l8-7 5-6-9 0-4 5-5-4-5-7-7-4 6-2-3-4-6-3 2-8-7-5-6 5-7 3-6-5-7 1-6-4 3-6-8 0 5 6-7 3 0 9 6-6 7-2 6 5 1-6 5-3 1 8-7 1-2 4 2 6 1 7-9 0-3 6 5 5-4 9-4-8-6-1 3-5-6-1m10-12l-6 0 0-7-8-4-5-6-5-5 3-4 21-22 4-4 24-25 28-29 47-49-37 39m216 28l5 7-8 5-6 4 7 2-1-6-6-4 0 8-5-3 5-5-2-7-4-6 0-6-6 3-7-2-5 5-1 9-6 1-3 5 0 7-9 1 1 8-4 7 4 7 8 0 4-7 2 8 7-2 5 5 9 0 2-11 9-2 7 9 11-4m-13-36l7-2-2 9-2 9-6-4-1-8 9 3 5 8 7 9 2-11-1-8-4-8-7 1-8-5 1 7-4 4-7-3-5 6 7 1 5-4-2-6 6 2m-309 69l6-7 7-7 4-4 3-3 7-8-3 4-4 4 1 7-4-4m-17 18l3-3 7-2 0-5 3-4 8 0 6-5-3-6 5 1-2-5 7 2-3-6 6-6 18-19 19-19m-74 77l-4 4-3 4-4 3 7-7 8 4-4-8 8 2-4 6 4 8 7 6 6-3 2 7 9 0 4 5 5-5 2 9-5 9-4-7 9-2 9-7 8 5 7 3-4 6 9-3-5-3 0-6 1-8-3-9-4 6-3-6-4-8-1-7 7 2-4-7 4-7 6-6-2-8-10-2-8 4 5 3-4 5-1 6-4 4-2-7 6 3 3 5-7-1 4 8 8 5-3 9-4 7-2-7-7-1-5 3-5-4-1-6 1-6 9-2-6-4 0-7 9-2 7-3-1-8-7-4-2-9 9 4 0 9-5 4-2-8-8-3m-35 37l3 8-6-4 0 8-4-5-3 4-4 3 24-25 4-3 6 1-3-5m70 20l10 1 4 7-6 0 2-7 8-4-9-5-9 8-10 3-2 7m12-10l-8-5-8 4 6 4 5 5-4 6 1 6 11-1 1-7 4-4 2 6 4-6 6-5-10-2-1-9 9-1m-18 9l2 7-7 1 3 5 6-1 6 2-7 5 9 1-6 6-3-7-6 8-1 8m92-14l-9 1 0 10-8-9 4-7-7 1 3 6-8 7-12-2m37-7l-6-6 1-7 1-7-7 1-6-5-6 4-7-3-6-7-4-9-3 8-6-6-8 4 0-7-8 3-7 1-7 7-5-7 6-3-7-4-5 5-4 5-6 0 5-5-6-2-4-7-8-2-7-1 3-7-1-9-7-9m125 75l6-8-6 0-6 2-7 1 4 6-8 1-8-3 5-3-5-5-8-3-1-5-6 1-4-4-6 1-5-6-8-3 1 6-8-2 2 6 10 2-4-6-6 4 2 6-8-1 3 6 2 5 4-5 6-1-7-4 8-4 3-9-2-8 7 3 1-7-8-3-5-9-8-3-5-2-7 3-2-10 0-12 12-3 2 10-7 1-7 4-11-5 4 10 7-5 6 3-4 7-9-5-1 7 10-2-3 8-9 0-1 5m101 30l6 6 2-10 9 6-11 4m-6-6l8-4 10-1-1 7m-17-2l-2-7-9 2-7 1-1 7-5-4-2 5m-4-131l10-24m163 66l7 2 4-7-8-1 4-9 9-5 3-8-6-3 3-6-8-6-10 1 4 7 6-8-1-10-8-5-5-8-8 3-7-5 7-5 0 10 0 9-9 2-4 6-8-4-7 2 1 7-3 5-8 0-2 7 7-1-5-6-8-8-11 4 8 7 11-3 4-8-5-11m53 55l-6 4 7 2 6-4 9 1-5-8-4-10 7 3 2-8 3 5-5 3-3 7 10-2 10-6-7-2-5 0 5-7-8 2-5-4 2-7-6 2-5-6-5 5-1 8-6 6-2 6 10-3-2 8 4 5 3-6-5-7 9-2-1-9 1-5 2-6 4 4m-13 31l1 6 7 4 8-7 5-10-2-8m4-19l5-4-2-6-4 4 6 2 6 3 6-3 8 3-6-10-6-6-4-7-5-4-3 7 8-3-1-9-4 5-8 1-3-7-9-2-8-2 5-7 0-10 5 0 5 0 5 0 5 0 5 0 5 0 5 0 5 0 5 0 5 0 5 0 5 0 6 0 9 0-9 8 0-8m-47 55l-7-3 6-3 1 6-4 6-3-9 1-8-9 2 4-5-5-5 9 0 8-2-5-6-3 8-4 5 5 3 5 5 0-9 4 5 8 1-6 5-1 8-4-4m-207 76l5 1 8 1 9-2 0 7 10 1 2 6 6-3 7 4-9 4-4-5-4 6-8 0 4 6 5 5 7-3 1 8-4 7m-35-43l2-4 0-7 8 0 4-6 1-8 6 3 3-7 5 6 5-7 8-9 10 2-4 7-6 2 0-11 6 9 9-2-5-5 8-2-3 7-2 7-7-5 0 8-6-6-6 6 2 6-8 0 3 4 5-4 2 7 6 3 7 2-4 8-3-10 6-3-6-5-4-6-6-2-2-8-6-8 4-11m-32 49l-4-6 6-5 5-5-9-4m2 20l1 7 4-6-3-5-6-2-8 0-7 3-5-5-6 0 3 10 7 2 6-2-5-5 0-7-5-7 11-5-2 8 3 8m12 6l-6 2-8 0-2 6 5 0m-102 42l6 6 7-1 7 4m-20-9l-8-4-8 1 3 5-7 4 7 1m13-7l0 6 6 0-3 6 8-1 2-6m139-51l-8-4 1 8-5-5-5-3-7-5-2 7 9 5-2 7-6 5 4 8 8-1 7-1-3-5-4-6 6-6m-18 11l-5-4-3 7-1 6-4 6-5-7-1 8-5 1-5-4 3-6 3 5 5-4 9 1 3 8-6 3 0 7-10-3m22-24l-8 3-7-1-7-1 4 7 3-6 4-6-8-3 6-5 6 2-2-8 3-6-6-6m12 30l8 1-4 7-6-1-7 2m9-9l0-9-1-8-6 7 2 6 5-5 8-3 5-4 4-3 9-2 9 6-2 11 7-4 2 9 10 4 4-6-4-6 8 2-4-7 5-6 6 3 2-8 10 1 6-6-2-8 3-8-4-6-3-9 7-8 9 2 5-5-4-8-1-11 9 2 3 6-6-2-5 5-3 7-7 4-8-1-6-6-8 9-7-9m-57 74l-2 7 0 5-4 5 2 6 0 8 0 10-7-8 7-2-8-4-5 4m15-24l-6-4-3-7 6 0m11-1l2 6 4-6 8 0m-14 0l6 0-4-7m-2 7l-6-4-7-1-4 6-2-8-7-5 1 10m-78-27l8-6 5 10-2 7-5-7 2-10m-8 6l6 4-5 5 4 8 2 8 10 1 1 7 4 7 7-4 5-6-6-2-4-5-7 3 2-6-6-1 6-5-8-3 8-3 4-8-10 4-7 0m-6-4l-7 4-7 5-5 3-5 3 5 4 6 5 1-7 6 4 7 0-3-5m36 41l-2-5 8-6m142-28l0 6-5-4 5-2-6-6 1 8-6-2 5-6-6-7-4 6-9-3 1 8 8-5-2-9 6 3 1-8 9 1 5 4-3 4 9-1 10-2 9-2-5 9 4 6 4-6 6 1 3-6 4 4 7-2 7 7-7 10-2-10 2-7 9-4 3-6 6 4 9-6-6-7 5-2 1 9-10-2-3-7-6 7-7-1-6-5 0 8 6-3 2-7-8 2-8-6 2-7-5-6-1 7-4-3 5-4 6-3 7 1 5-4 6 3 6-1-6-5 8-3-1-7 7 2 2 6 8 3-2-9 6 2 5 5 4-9-4-5-5 2 0-8 7 0-1-8-8-6-2 7-6-5-6-7 8 1 5-5 6-2 2 7-7 4-1-9 3-7-3-7-5 6-8-7 4-9 4-7 5 0 5 0-6 5 1-5m-84 134l7 1-7 5 7 3 0-8-3-7-4-6-6-2 0 8 10 0-4 6m-214 7l2 8-8 5-7 3 2-7-4-2m15-7l10 1 3-7-7 1-7-2m1 7l-5 5-1 8 6 4 6 3 6 4 1-6 3-6 4 5m29-16l-6 6 7 1-4 5 0 6-6 2-7-2m239-128l4 5 2-8 7-3 6 4 7 1m-26 1l-1-5 7-6 0 8 7 6-4 7-5-5-6 0 2 6 6 6 4 5 3-6-7 1-2 6 6-1-2 5 0 6-7 3 0 7-9-4 3 7 1 8 9 1 2-7 8-1-6-7 8 1m-17-41l6-3-7-2-6 0-9-7 3 12-2 9-6 4 4 8 5 6 3-6-8 0-3 6 8 0-2 6-6-6-4 6-3-5-5 4-7-1-3 4-6-6-5 8 6 3 7 2-3 6 2 7-7-2-5 5-4-7-5-6-9-1 0 9-8 0 6 7-3 7-5 4-4 3 6 5-2-8-9-4 5 7-6 1-2 7-9 0-9 3 2-8-6 2m115-79l-2 5-6 2-5-7 6-5 5-8-6-10 6-9 7 0 6 0 5 0 5 0 4 5 6 5 3 9 5-6 4-6 3-7 4 6 6-6 3 7 7-7 2 11 3-11 4 8 1-8 5 5 5-5 1 8 4-8 6 8 0 12-7-5 7-7-10 0-6-3 0-5m-81 32l-6 1-2 6 0 7 8-3 9-1-3 7-8 1 2-7m-144 90l-5-7-6 1m-61 22l-2 7-2 8-8 4-7 0-3 7-3 8-11-2m34-25l-8-2-7 1 1 7-3 6-7 1-4-6-2 6-5 5-7-3 0-6 5 3m446 169l138 47 0-93 0-93 0-93 0-105-93 0 93 105-121 79 121 107-138 46 17-153 121 14m-138 139l-110-100 127-53-19-118 140 39m-138 232l-161 16 51-116-88 0-58 18-24 103 119-5-37-116 24-39 64 39 22-75 105 22-72-74-44 4 11 48 33-52 53-44 47-66-65 0-33 0-2 30 35-30 18 66-53-36-31 19 30 16 54 1m-361 51l-4 4m4-4l7 0 4 8-2 8m-9-16l-9-3 0 9m210-69l-6-1 2-6-6 1-6 0 6-6 2-6 6 4-8 2-10 0 4 6 4 6-7 0 3 6-5 5-7-3 3-7-6-5-7 3-5-5-7-3-12 0-3 11 9 4m-212 65l-8-5m268-84l-2-6 2-7-1-8 6 2-2-6 7-1 8 3 4 8 4-8-4-6-2-7-4 5-1-5m-17 42l0 6 4 5 1 6-5 1 4 7-8 0-6 5-2 8 3 4-5 3m-40 25l5-3 3-6 7-6-4-6-5 1 2 4 7 1 0 7-7-1 3 8 1 8 5 2 1-7-6 5-7-2 3 9 3 8 4 9 5-10 6-3m-26-18l5 5 0-8-6-5-9 2-5-3-7 3-6 1 2-7 5-2-1 8 6 6-9 2-3-7-5 0-1 6-10-2 6-5-3-7-6-5 3-9-10 4-8 3-4-9-4 11m70 18l-7 0 3 7-5 9 9-2-3 7 7-1 3 7 4-5 3-7 6 6 1-8 2-7 5 5 1-8 0-7m-280 84l-4-5-1-6-7-3-7 5 3 7-7-1-7-1-2-7 7-8 7-7m18 26l-1 7 6 3 4 7 4-9 5 10m-18-18l-6 3-4 9-3-8-7 5-9 2 3-7-4-8-5-4 3-3 4-4 3-4-21 22 4-4 3-3 4-4m330-112l-8-4 0-6-7 3-6-6 8-1-5-5 1-7-7-5m-45 73l-4 6-6 1m-151 15l5 3 2-6 7 6 1 7m-15-10l7-3-7-3 8-4-8-2-6-4m6 16l0-6 0-6m170-12l2 9-5 7 10 0-7 7 6 3 0 8-2 7-6-3-2 8-6-6-6 8-3-10-9 4-7 8 9 2-6 4-3-6-5-7-3-7-7 3 4-8-6-1-5-7 11-5-7-3-1-5 3-8 0-8 6 3 3 5 5 5 5 5-8 1 3-6 2-7-7 2-4 8-7 5m53-15l1-9 0-7-3-6-11 1-1-9 3-5 1-9 8 1-2 6-2 8m6 29l6-6 3 6 6-8 4-8 5 7m-24 9l-4 6 6 3 7-9-9 0m-45-3l-6 5-7-5 7-3 6-2-4-5 10 0-7-7m1 17l5-2 1-8 1-10 7 5 1 9 8 3 5 1 0-7-8-1m-20 10l0-5 6-5 8-5 9-2 9-1 8 7 6-2 5-4-3-7-2-6 7 1 6 2-4 5-4 5-8-2-3 8 6 5 6-4-6-3m-46 8l5 3 5 5 1-6m171-58l-9-7-8 3-2 7-6-5 8-2 1-9-7 3-2 8 0 8-7 5-8 2 5 6 7 9 3-12 0-10 6 5 8-5m-391 134l-9 0 5 8-8-5 1 5-5-1-3 4-4 3 7-7m16-7l-4 8 8 0 6-1 0 6-3 8-10 0-11 1-5-11 11 3 5 7 4-6-9-1-6 8-9-8-4 5-5 5-6 7-8 8m46-39l4-6-2-5 8 0-1-7 7 1 2 7 1 7-5 5 6 1-1-6 7 2-6 4 4 4 2-8m71-12l7-1-6 7-8 4-7 3-4 7-5-4m65-34l-7 3m7-3l8 0 4-6-7 1-5 5m5-5l3 5 8 1m87-31l5 7-7 1 2 7-9 3 2-7 5-3m41 24l-4-9-6-4 6-5 1-8-7 5 6 3 0 9-8 3m-134 32l6 5-8 0-5-4 7-1 6-5m-6 5l-3-5-3-5-1-5-5 5-5 6-2-6 7 0 6 0m6 10l-2 5m2 7l9 1-3-8m79-53l9 1-4 5-6 0 3 5 7 1m-9-12l-7 5m7-5l-12-2m12 2l-1 6m1-6l5 6-3 5m-2-11l-1-7 6-5-6-3-5-8m6 23l7-6 2 7 6 0 7 4 4 8 6-2 3 4-9-2-6-2-3 6m-4-30l7-6 7-5 6-6-5-7 7 0m-22 24l-6 7 7 1 1 6m-2-14l1-8 3-5-7 1 4 4-6 3-9 3-8 0m139-86l3-8 6-7 8-1 3 7m-84 82l6 2 7 3 5-3 6 4 8 4 6 7-8 4m-124-11l-1 5 8 5 0-7 6-5m-13 2l-6 1 3-5 6-6-7-1 1 7-7-1-9 0-7-6 0 7 7-1 7-5 8-1-6 6-2-5m12 10l7 3-8 2-1 7-7-6-2 6m137-12l-1-10 1-10-6 2 4-8 2 6m134-69l-1 35 1 45-30-30-14 34-13-25-13 23 26 2-26 25 37 23-54 12 32 63m55-207l-28-2m28 2l-22-18 24-12m-33 49l1 31 29-15m-152 43l5-5-8 1-4 7-6 6m13-9l5 3 0 7-6 3m1-13l0 6 5 4 6-3 7-6-5-8-6-7-8-4 6-3-5-6-2-9 7 4 2 6-2 5 8-1 5-5m-18 27l-3-4m3 4l-7 3m-299 228l-145-2-62 64 20 76m187-138l138 10 96 9-32-71 56-32-7-49m-251 133l-44-62-18-27 33-5 24 16-39 16-36-8m218 80l19-87-16-33-23 16-23 40 43 64 64-62 3-49-35-15-13 39-62 23-6-35 11-24 18 19m39 17l45 25m-190-114l5 4 1 6-7-1-6-1m185-79l4-9m-44 46l2 6m-2-6l-6 3 2-7 1-7-8 5-10 6-6 4-1-6-3-6 7 2 5-3 5-7-5-7 11-2-6 9-7 0 2 7-2 9 7 6m14-6l-4-4m-30 45l-5-6 4-6 6 1m-11 19l-8 6 0-6 3-7m5 7l9-1 4 6-8-1m-5-4l-8 0-5 3m176-112l-5-4 8-3m21 89l4-9-8-3-4-6 6-4-6-2 3-5 7 2 9-1 8 7m3-54l-6-4m6 4l4 7-10 1-2 9m8-17l-6 8-10 3m-24 31l-5-7m5 7l6 5 4 4-5 4 5 2-5 7m-5-22l-1 10-6 5 6 3-8 4 2-7-8 3 1-6-7 2 2-6m-109 62l6-5m154-106l2 7m41-84l6-5-6-5m-272 183l9-2 7-4m161-57l-5-7-4-7 5-6 4-9-7-6 6-3m31 55l0 6m-21 15l4 8m-230 36l8-2-6-6m7-27l-5 3-1 7m86-61l-2 7-3 5 0 5 3 6 0 7m-36 51l-7-2-8 5m15-3l-1 7-6-2 7-5m228-160l-4-4-1-6m25 99l-10 0 3-9-1-8 4-5m-301 95l-5-4-7 1-3-6-4 5-3-6-3-7 6-5 8 1 6-3 1 6 5-3 1-7-7 4-8-4 6-4 5-4 9 0 2-9-5-4 6-4 7 3-2 9-8 5-5 8-9-4 2 8 6 3m132 5l-1-6 8-4 6-6 8-4-1 7 6 6-3 7m57-41l5-8 4 8 1 6 5-2 6 4-8 2 2-6-6-4-9 0-2 6-7-3m108-69l4-7 4-4-4-3-6 5m-217 72l-7-2-6 2m243-85l7-2m-105 25l7-2-6-7m94-3l5 0 8-4m-3-25l1 8 5-4 2-6 5 5-3 6m-10-9l-6-8-3-9-5 5-8-1m22 13l6 4 7-1 7-1 2-6-6-1 6-7 4-5 2 4 7 1-2 8 1 9-7-6 6-3 12 0-2-11 11-1m-334 182l0-7m303-56l-17 35-32 24-1-34 33 10-16-33-17 23-26-7m76-18l0-27m0 27l-33 2m-152 9l-5 6-2 6 8 5 10 3-3-8 0-7 5 4 5-8 2 8 5 4-9 1-5 6m-16-14l5 3 8 3 5-3 7 0 8-4m-174 12l5-2 7-1 5 5 6 0 4 6 6 6-1 7m205-100l-2-6 7 2-2-7 8 4m-11 7l-1 4-5-3-7-2 2 8 3 9-8-5-1 7m17-18l-6 1 4-7 5-5 6-5 5-7-10 0-8-1-4 5-4 5-2-7m-259 194l-9-25-18 25m187-94l-4-5m4 5l2-9m-2 9l7 3-6 3-7 0m6-6l-8 0-7-2m15 2l1 6m-86-19l-3-6-4-7-6-4 4-4 6-6m296-68l0-8m0 8l3 12-9-7-7-5-3 8 0 7-3 8-7-5m26-18l-6 5-10 3m-63 9l4-5-6-6 8 0 7 3-9 3-11 1-5-7-4 5-8-1 4 7 2 6-7 0 3 7 2 7 5 0m-116 18l4 6-3 6-5-6-3-5m-96 22l5 5-6 1m-6-3l-4 7-5 2m144 18l7-5 8 2 5 5m-149-14l3-7 7 0-3 5-4-5 3-6 8-1m-14 14l7-2m-7 2l-9-2 5-6-6 0-5-5-4-6 2-5m-153 346l-113-76 191-199-33 35 24-25 7 10m328-190l7 1 5-6-1-8 8 2 0-7 7 2 7-1-3-8-1-7m-316 171l-6 6m267-114l3-7 4 8 4 6 9 2m-214 83l4-7-8 0-4-6 2-5m-113 108l-15 32-62 19-101 105m336-295l-5 11-7-8m53 114l-29 6m29-6l-23-13m23 13l28-12 7 27 21-30 32 47 17-48 41 30-15-44-25-15-1 29 26-14 39 5-20-20m-103-19l3 5 4-5m205-79l-27 9m5-74l-4-3 1-7-6 3-7 3 1 8-6-2 5-6-9-4 2-7m23 15l3-7-7 4-5-4-1 9-5 2m15-4l-4 3-2 6-8 4 1-5-6 1-7-2-3-8-8-1-8 0-2-8 6 2 7-1 1-6m33 15l6 0-3-7m-3 7l2 6-8 3-4-7-3 6m19-8l-4 6-6-3 0-6-6 5-6-6m-90 141l2-9m-208 25l-4-6m135 46l-28 3m-17-105l-3-10m12 29l-9 1-7 0 2-6 8 0 6 5 3 9m-3-9l8-1-5-4-3 5m198-93l0-8-2-7-4-10-4 7 8 3-5 5-7-2-4-7 3-7 9 1m6 25l5 3 0-7 6 4m-11 0l5-4-5-4m-73 47l2-6 2-7 8-3 4 4-7 3-5-4 2-8-6-4-6 2m-183 80l-3-4 1-7 5 6-6 1m258-32l8-9-8-7m-393 123l8-3 3 6 4-6-7 0m54 4l10 1m-10-1l0-8m0 8l6-7-3-6m278-128l5 1 6 0-4 7-2-7 4-6 2 6 4-7-6 1 2-6m-6-32l-4-9 2-7 6 7 8-2-1 6-7-4-8 0-4-7-3 9-4-9-9 0 3 9 10 0 7-2-3 7-4-5-4 10 8-5m13 16l-6 5m-298 136l8-1 5 4m2-25l8-7m282-127l4-4m-245 177l-5-3-6-4 0-7m-64 17l-3 5-7-1m365-164l-3 8 5 7m-131 104l5-8m-32-20l0 8 8 1-2-6m115-66l5 3 0 7m51-51l-6-1m-240 145l-1 5m138-75l-3 4-7-1-6-3 1 7 5-4 5-6m-286 107l5 7 6 6 8 9m222-107l3 7-6-2m-237 93l0 12m248-136l-2 7 5 8m96-5l-2 6-6 10m-217 22l-4 4m211-53l5-5m22-51l9 0 5-8 4-6-5-8m-13 22l-5 1-3-5 8 4m-317 135l3 7m296-68l7-1 9-2m-83 108l-17-23m-192-37l1 6m46-85l8 8m-57 52l0 7 7-2-7-5m129-8l-4-6-5 6 9 0m93-38l-3-8 8 2 7 1-3-7-4 6-5 6m38 27l4 4 5-4-9 0"/><path d="M473-432l-2 19 7 18 11-9-18-9-21 2 7-19 16-2 17 4-19 15-14-17-9-16 2-21 9-10 8 23 3-23 14 0 13 0 14 0 13 0 14 0 13 0 14 0 13 0 14 0m-119 45l-6-22-17-13-10 9-9 10-9 10-10 10-9 9-10 10-9 10-9 10-10 9-9 10-9 9m126-71l9-12 8 16-1 24 17-12-16-12 7-24 0-25-13 14 0-14m6 49l22-12-15-12-15 8-15-10-19 8-8-12m138-19l17 9-8 11-9-20-12 16-1-16m-132 69l17-3-6 16-4 16 4 13m-11-42l11 13 19-2 15 2 10 10 1-19 13 10 4-22 21 0 6-20 12-21 6-20 15 16-21 4-7-20-11 20-3-20-12 14-1-14m-78 69l1-19-3-21 17 2-14 19-12-11m11 30l-16-2-5-18 22 1 16 16 13 14 8-16m-38 5l-6 14 13 15-7 11-10-9 17-2 13 10 5-12-18 2m-29 116l10 15 6-19-12-7m-4 11l16-4-5-13m-11 17l-15-2-14-7-16 7-18 1-13-3-1 15 14-12-8-12m71 13l-6-12-9 10-16 14 2-21 13-5m16 14l-10 11 20 4m39-24l12-12 17 0 17 15 25-2-14-20 7-12 14 10 18-6 3-17 11 10-14 7-12-9-6 15-7 22 24 1m-95-2l-10 18-7-21 1-13m16 16l-17-3-16 8 4-12 12 4 13-11 16 2 6 18-18-6-4-14m-73-91l1-22 17-2 2-18 14 9-5 21-3 18 14-6-11-12-11-12 16-9 17-17 23-3m-74 53l-8-12m8 12l-18-3 6 13-15-3 0 13m27-20l-12 10 15 6-3-16 14 9-11 7m-3-16l15-6-14-16m13 31l1-15 11 12 13 8 1-14 4-17 17-1 14 14 12 6m230-82l11 8-3 21-17-17 9-12 17-8 5-12 19 0m-244 0l15 14-15 11-13-11-14-14m-122 213l10-13 8 12 14 14 21-1-3 20m-50-32l0-14m0 14l9 18 9-19m51-145l10 16-15 5-14 6 3-18m192 81l-16 4-4-12m20 8l19-16 7 23-19 14-19 15-11-22 14 3-7-13m16-4l7 21-16-4-3 19m12-36l3-17 16 1-9-11m-10 27l-10-14 13-3m-3 17l-9 17m9-17l-12-5m-64 34l-4-15m4 15l-11 22-4-21-13 6 4-13m24 6l21-2-4-14m-17 16l-15 1m15-1l-13-10m-124 50l-23 5-23-6-17-13-10-8-5 14 15-6-2 22-13-16-9 18-19 0 1 25m82-30l12 19m137-189l12-10 9 10 18-9 14-3-3-13-11-16-18 0 6 21 23-5 21-2 10-14-21-4 11 18 11 7m-82 20l11 15 10-15 5 15-15 0-15 7-14 9-14 1-11-13-5 16 16-3m32-32l6-24 21 4 12 11 11-16 10-20m-49 60l-3 13-12-6m31-42l-15 10-6-14 15-17-15-6 0 23m161 34l5-17 2-13 11-9 20-4 6-16-8-12 13 0m-49 71l9 18-21 3 0-16 12-5 16-5-11-12 11-6 19 1-19 17-7 23-13-6 4-12m-146-10l15 7 3-16 10 9 4-12m-3-13l14 9 7-11 13-2m-288 186l-18 3-10 15-23 9-10-18 14-15 9-10m53 10l-1-13m296-58l9-15 2-15 13-1 13 13-17-1 4-12 14-5-1 18 20 16m-57 2l-1-15m1 15l24 0 13-18 20-11-19-7 11-13 8 20m-48 14l15 15-4-19-9-11m15-12l12 6-4-13 15 0-10-10m-328 59l14-15-10 11m140-114l17-9-2 19m-86 179l5 13m-94-21l-13 5-10 12 9 15 22-2 19-9-8-16m355-185l10 8-2 16 0 18 20 14m-447 142l-2-15 13 3 11 11-22 1-13-3m13 3l-21 5-10 10-13 13m44-28l12 14m-12-14l11-12m-11 12l-11 23-20-8m301-161l10-8 13-7 12-5m150-44l-17-4m-113 12l14-1m-295 140l10-11-17 18m-7 7l-10 11m10-11l-14 15m14-15l-17 18m281-13l-4-12m-80 27l9-11 8 11-11 18m46-57l12 6" stroke-width="6.0"/><path d="M700-524l-26 47-42 0-42 0-42 0-42 0-42 0 26-47 16 47 26-47 16 47 26-47 16 47 26-47 16 47 26-47 16 47 26 0 0-47-42 0-42 0-42 0-42 0-42 0-26 0 0 47" stroke-width="6"/></g>
<path d="M254.6 458.3V454.2H277.8V458.3" fill="none" stroke="#111" stroke-width="1.3"/>
<path d="M208.0 506.0H301.2V458.3H253.9Z" fill="none" stroke="#000" stroke-width="1.0" stroke-linejoin="round"/>
<text x="256.0" y="516.9" font-size="8" text-anchor="middle" fill="#000" stroke="#000" stroke-width="0.15">E</text>
<g transform="translate(310.8 506.1) scale(.1)" fill="none" stroke="#000" stroke-width="9.5"><path d="M539-391l-8 2-7-2-6-6-5 8 1 9-7 2-4 4 0 7 4 6 1 7-7 4-1 10 8 5 1 9 6 5 0 6 3 8 8 7m13-91l-2-4-6 6-3 9-5 7-5 5 6 2-1-7-3-7-6 0-6-5-1 7-7-3-7 3-7-3 6-10m47 0l0 8 2 8-5 7-6 3-5 6-2 6 1 8 7-7-8-1-4 3 5 5 7 1 8-2 4-5 10 2 6-5 6 1 2 9-5 7-8 2 1 8-5 4-6-1-4-6-10 0 6-8 3-8-8-6-6-7-1-7 6 1 4 5 2-8 8 0 7 2 7-2 9-1 8 4 5-3 2-6 5-6 5-6 6 4 8 1-2 8-3-4-3-5-4 4-7-2-1-8 6 2 1-7 1-8 5-8 9 3 0 7 5 3 8 0-7-5-6 2-6 3-8-5-5-7-5-6 7-7 7-6 7 1 4 5 0 7-1 8 6 5-1 5-5 2 0-5-6-4-8 2-8 5 7 3 7 5-2 6m-59-9l5 2 6-2 5 7 7-8 10-3-3-10 1-8-6-4 1-10 3-9 8-3 7 5 3 7 5 6-9 0 2 7-7 4-8 5-6 5 9 5 3 9 0 7 7 5-1-9 6 3 4 7 3-5-2-8 8-2 6 7 8-4-7-4-1 8-5 4-7-1 4 5 6 0-6 5 4 8 3 7 7 9 2-11 8-8 12 2-2-8-10 6-6-7 4-7 5-5-4-6-7 3 5 2 1 6 6 3-10 4-8 4-4-7 6-1 6 4-3 8 9-1 4-11 6 5 2-6 7-6 10 2 8 9 18 26 3-37 42 19-6 92 30 158-95 112-93 0-93 0-93 0-93 0-93 0-93 0-93 0 242-256 55-58 131-138 28-29 7 0m76 90l5-5 6 5 2-7-4-9-9-7 9-7 9 6 7-2 7-4-6-6 9-3-6-6m-24 47l3 4 8 1 9 0-2-8 1-8-6-3-5 5 4 6-1 8-4 10 7 6-1 7-6-5-4 4-3-6-3-7-7-1 2 8 5 6 3-6 7-6 0 8 1 8 1 9 7 3 5-7 5-8-3-8-6-7-3 8 5 7 4-8 1-8-4-7-3 8-6-8-8 4-6 5 10 1 10-2 7-1 7-2 6-4-6-3-6-3 3-6 5-7-8-3-7-3-5-7-2 5-7 3 9 4-2-7 7 2 2-9-7-7-9 3m-4 32l-5 6-8-6-7 4 0-6 5-6 2 8m13 0l0-7 8-2 6 1 4 5 7 3-5 5 6 1 5-3 5-4-8-5 7-2 7 1 0 8 7-5 9-3-2 8 7-1-5-7 6 2-1 5 7-2 0 6 0 6 2 9m-539 289l-77 81 209-221 33-35 25-26 30-32 75-79 56-59-28 30 19-20m-342 361l16 81m-16-81l109 81 28-99 65 99 58-105 35 105 83-88 10 88m-388-81l132-140 19-20 32 52-51-32-27 29-41 44-64 67 105-111 78 3 77 84-4-79 30-32 13-28-7-26-18 20 12 34 43 43-69 68 118 17 103 88 71-97 22 97 93 0 93 0 83 0 0-93-83 93-91-112-2 112m-667-81l137-18-32-93m32 93l-73-49m73 49l123-6m-123 6l46-90 73 5 73 11 36-49 39-17 54 22 12 82 11 135m-213-345l6 3 6-5 7-1 3-4 5-5 8 5 8 3 8 1 10-1 0-7 8 5 9 6-4 7-7 3-4-7-2-7 8-2-3-9-5-10 5-10-10 2 5 8 8 4-3 6-5 4-6-7 6-7-12-3-9 3 5 7 10 0-6-10-4 10-9 1 4-8-10-3-3 8-6 2-6 3-7-3-4-5 6-6 8-9-18 19 4-4 9 1-3-7 10 3-2-12-21 22 30-32 28-29-18 19m-37 58l-3-8 0-8 3-3 8 1-5 5-3-6m0 19l5-5 1 8 6 4 4 9 6 7-2 9-5 6-7-2 3 7 1 8 6 3 6 7 8 0 8 8 9-7 5-8-6-5-7-5 1-7 0-7-1-7-7 3-5-4-7 1 5 6-7 3-8 0-4 4-2-9-9 1-3-4-6-2 3 9 3-7 3-5 1-6-6-5-7 6 3 8-5-1-4-4-3 7-7-2-3-5 4-4 6-7 4-4 3-3 7-8 37-39m-27 48l0 6-8 2-6-4 1-9 3-4 7-7-3 4-4 3-38 40 24-25-3 4-3 3 3 4 0-7 6 0 1-8 6 2-3-5 4-4 6 5-3-9 7 1-3-4m6 12l-7 0-1 8 0 8-4 6-5 5 1 7 7-3 6-3 2 7 9 1-4 5 7 2 4-5-3-6-6-5 8-2 6 7 8 5-3 7 6 7 1 10-7-6-7-1-4 8-2-11-10 5-9 6-2-10-8 0-7-3 7-4 8 7 11 4 5-8 5 3 5-5 1 8 5-5 2-5 7 0 9 0-3 5-7 2-6 4-1 6-10 1m-17-78l6 3-6 5 8 3-2-8 7 3-2-8 5-4 2 7 5 2 2 6 1 6-4-2-1 5-6-4-7-3 5-5 5-5 1 7 3 5m-22-5l-4 8 7 6 6-3 1 5 5-1 0-9-2-8 6 2 6 1 6 3 7-3 2 9 6-6 5-4 3 5 3-7 7-1m275-82l3 7 9 5m-12-12l-4 6-6 7-5-5 0-9-9 2-4 9 4 7-2 9 6-4-4-5 7-2 2-7-6 0-3 9-7 1 5 8-8 0-5-6 8-2 3-8-6-6 10-3-6-5-4 8-8-2-4-5-5-4-5-7-1-9-7 0-6-8-2-12 7 0 6 0 5 0 5 0 5 0 5 0 5 0 5 0 5 0 5 0 5 0 5 0 5 0 5 0 5 0 5 0 5 0 5 0 5 0 6 0 8 0 11 0m-51 43l-6-4-9 3-1-10 5-6-7 0 2 6-6-1 4-5-7-1-6-7-7 2-7-3-5 6-6 6 7 0-2 7-3 6 8-2 3-8-8 4-9 2 4-9-5-3 4-6 7 3 1 6 6 3 5-5-6-2-5 4m49 14l1-7 1-8 5-9-9-3 4-8 4-8 5 7 5-7 5 8 5-8 4 7 2-7 7 7 1-7m-40 43l8-1-5 8-7-1-2-10 7-3 7-4 8-6-9-7-5-11-1-8m-7 39l-4 8-5 4m9-12l2-9-7-4 2-8 7-2-5-7 3-9 6 8 9-1 0-7m-17 39l-4-6-1-7 8-4 10-3 8-5 5 3 6 6-10 3-1 9 11 0 0-12 5-8-11 2-4 9-1-7-8 0m-176 158l6-3 9-6 9 3 8-8 6-5 1 6-7-1 0-6 4-5 7 2 6-2-7-6-9-1-5 6-4-8-5-6 0-8 3-8-9 1-7-3 0-6-6 2-5 5-5 2 6 5-1 9-6-5 1-9 1-8 9 1-1 7-3 5 5 6 6-2-1 6 6-1 3 7 3 8 5 9 1 11 11 1 8 6 5 10m-48-11l-7-2-5 3 6 4-5 11-5-10 4-5-7 0-8-3-7-4 0 9 7 9 2-8-2-6-7 5-6 9-9 8-6-10-6-3-2 9-9-2-2 8-7-7 9-1 4-7 7 0-1-8 9-3 6 4 1-9-7 5-6-5 1-7-5-5 3-6-6-7-2-9-2-8 6-6 7 1 2 7-5 7-6 8 10 0 5 8 8 3-4 5-4-8 3-8 4 5 1 6 4 6-8-1 1 9 7-8 7-4 5 4 7-3 3 4 5-5 9-1 8 0 2-6-5-7 4-5 3 6 3-7m-12 41l2 9-8-4-1-7-1-8-9 0 0-6 7 0 7-6 4-5 6-1 2-6 6 0 4-6m-19 40l-6 5-10 1-9-2-9-1-8 1 2 8-7-4-2 12m49-20l-1-7 4-4 6-5 6 7 8-8 5-9 8 1 2 6 8 2-3-6m-219 34l0-11-7-7-1 5 0 6 0 7-7 4 0-7-2-5 9 1 8-4 0-10-8-4-7-3-10 6-3-10 3-3 7 0 6 0 6-3-6-4-3-4m15 46l-7 7 9 3-7 9-2-12-1-7m8 0l6-4 5 8 0-9-3-5-8-1-8-2-9 5-6-4-8 5-6 8 4 7 10-2 8-2 8 3m146-56l6-1 7-1-5-5-2 6-1 9-8-4-8 0-8 0-4 7 9 1 7-3 4-5 2 9-5 2m6-15l-3 4-4-7-4 7-3-8-4-7 8 1 4-7-8-5-6 4-4-7 10 3 1-9 11-5 3-12-10 5 7 7-2 7-9-2-5-9-10-1-11 5-8 7-4-10 12 3 8 5 3-10 5 8 5-7 9-3m9 43l-7-3-3-7-4 6-5 8-4-8-8-1-7 0-3 8 5 5 7-4-2 9 8-2 3 5 6-4-2 7-5 3 1-6-6 1 0 7 5-2 6 3-1 9-1 7-7 4m24-45l5 8 0 9-6-4-1 8 0 7 5 4 8-3-1 7 10-2 5 5m-25-39l-1-7 7 6 6 7 1-8 6-4 7-2-5-7-5 2 3 7 6 8 7-5 1 10 6-4-7-6 6-3 5 4m80-137l11 0 6 7 1-7 4 6 2-6 5 6 5-6 3 8 2-8 7 5 3-5 6 9 4-9 4 8 1-8 5 5 5-5 2 9-7 4-6-5-2 9-9 1-4-5-2-8-2-5m-139 114l-7-5-3-6-6 5-1-8-6 2-4-11m27 23l6-6 5-7 2 7 7 0 6 1 7 4m-33 1l-5 3 4 5-6 2-2 9-1 9-5-5 0-7 3-4-6-2-4-3 3-6 3-7 9 1 7-2-3-7 8-4-3-9 8 5-5 4m-12 13l4-9m-4 9l2 8-2 7-5-7-4-9-8 1 5 6-5 1 2 5-5-1-7 2 9 4 3-5m15-12l-5 8-7-2 1 9-2 8-5-6-2-6-3-5-4 7 5 10-9-3-4-6-4 5-7-1 5-6 6 2 0-6 6-2 2 7-8 1m53 19l-1 8-5-4-6 3 7 6 1 7 5 4 6 1-3 7-7-4-6 5-10-2 9-6-2-6-2-5-8 1-1-8 6 2-5 6-6-5-6 4-1 8-6-4m41-18l7 1 3 5 6 3-7 3-4-5 5-1 3-5 9 0 6-3-3-5 8 1-4-6-4-4 0 9m-25 7l-1-9 3-7 7 2m-121 45l-3 8-6 4-1 5 2 8-9-6-8 5m25-24l1-8 3-6-7 0-8-5 3-8 6 0 5-2 3-5-7 0-7 7-2-8-4-6-1 6-5 0-10 2-9-2-6 5-6 6 10 3 10-1 3 7-2 7 7-3 8 4-7 3-1-7 0-6-5 2m28 15l3 9 7 4 1 10 7-6-8-4 0-6-7 2-6-1 0 9 6-8 4-8 6-5 7-4 6 0 5-6 5-5 4 8-9-3-8 0-3 6 1 7 1 6 2 6-6 6 5 10 6-8-11-2-3-6-5 2-6 4 7 6-9 3-10-1m8-25l-6-5-9-2 5-5-6-2 5-5 1 7 7-2 4 6-7 3-9 5-7-4 0 6 6 5 8-3-1 8-5 2-2-7m16-7l7 1 3 6 5 4 9 0 9 1 5 6m-38-18l7-8-3-6-1-7-5-6 1-7-5-6-4 5-5 7 7 1 3 6-6 2-7-1 2 6-7-3 0-8 3-10 5 7 4 9m11 19l-8 4 5 4m208-144l-2 5 7 1 9 4 0 9 4 8 3 8-9-4 6-4 5-6 2-5-5 0-6 3 9 2-3-5-6-6 6-5-6-4-9 5 1-8 0-8 4-7 3 6-7 1-6-2-4-7 8-6-1 9-7-3-3 8 7-1 0 6 6-4 5 5 7-3m-18 8l5 6-5 6-2 6 7 0 9 1-5 6-7-2 3-5 4 7 3 6 1 8 1 9 0 8-2 5 6 1 1 8 8-1-2-6 9 0 2-9 9-4 9 5 3-12 10-1-2-11 3-6-4-6-7 2-3 7 7-1 3-8 9 1 4-7m-77-13l-6-2 4 7-6 2-1 10-6-5-6 5-4 6-6 4-6 4 1-8 5 4 8 3-2 7 7-1 10-1 10-5 10 1-5 5-6 2-6 3-3-6-6-5-2-7 1-6 6 0 3 8 4-7m2-18l0-6-6 4-6 1-9-6 9 0 6 5-2 9-7 5-9-2-9 4-3 9 8-4 7-2 6 0 0-5-2-8-4-11-4 8 1 9-4 9 3 4m25-23l6-2 5-3 2-6m-220 120l-3 6 2 7-3 9-4-7m13-9l-6 7m6-7l7-6-7-2 0 8 8 3-7 4m-1-7l-8 0m216-125l-3-6 7-1 4-7 3 7 5-6 7 3 1 8-6-2-2-9 6-6 1 9 5-4 3-8-9 3-8-2 0-6m-134 178l-6 3m6-3l3 5m-3-5l2-5 0-6-9 1-1-8 1-8 5-3 2-7 7-1-3 5-6 3-4-4 6-3 4 4 0 5 3 5 2-7-2-8m53 63l31 21 56-10 76-4 122 57 82 120 0-93 0-93 0-93 0-109-93 0 93 109-129-49 36-60-51 0-27 0 0 29 27-29 15 60-31 37-38 22-45 18 39 74-68-42-8 46-28-25 36-21 29-32-32-6 3 38-23-21 20-17m-92 73l-32-3 16 23-2 40 49-39 28-35-15-22-16 23 3 34-47-1-28 1-28 17-33-16-6 33-17-26-21 26 38 0 36 41 69 46 82 38 117-15 174 19m-367-184l28-13 31-1m-29-143l7-6 5-5 0-6 5-4 1 9m-11 101l-9 0-4-5-3 6 7-1 2-6-6 1 0-6-2-9-5 4 7 5-6 4 6 2m13 5l0-7 0-6 5-3 7 1 6-6-10-2-3 7-7-5-8-2 4 9 6 1-2-8-6-8-8 2 6 4m10 23l2 12-10 1 2 9-9 5 6 8-12 3m21-38l5-4-5-3-7 1-6-5 7-3 6 7 7-2-7-4m0 13l-7-6 1-8-9-6-1-7-7 3m23 24l-6 6-2 7-7 5 9 4m6-22l10 1 12 0m-170-21l6 4 3-6-7-6 8-2 10 2 5 7 6 0-2-5 8-1-6-6 7-1 7 6m-45 8l-6 5-6 3-7-1-5 2-4 5 9-2 7-4 5 3 1-6 6 5-7 1 2 7 5-8 0-10 2-8-7 3-9-1-7 4-7 1 5 4 4 4 3-5 4 6 3-8-5-6-2 8-5-4-2 5-8 2-11-3-1 8 7 6-5 7 4 5m37-28l9-2 1-8m-10 10l-9 0 3 5m6-5l-5-5-1-8m126-30l8-5 7 3-1-7 3-8-5-5 2-9 6-4 8 3 9 3-4-8m-33 37l1 8-5 3-1-6 5-5m-138 27l-7 9-6-8m268-85l-1 6 5 6 6 4 7 3 3 9 8-9m-339 100l-5 3 2 7-4 7-2 9 8-2 4-8 1-11-4-5 5-3-1 8 7 8 5 5 3-8-8 3-8 3-6-6 7-5 5-5 3-6 1-10-9-3 0 8-6-6-8-4 7-4 7 6m-15 18l4-6 4-5 1-5-1-8 10-2 6-10m171-15l-6-3 2-6-9 4 0-11m19 17l-2 5 6 0m160 30l91 33 107 50-82 66 82 27m-198-176l8-51-6-30 25-9 42 31 22 92 107-43m-198 10l-26-36 34-15 61-8m-306 64l-7 2-4 6 9 0 5-2 6 3m-9-9l3 6m-3-6l6-7 0 9m-65 58l5 8 4-7 9-1 5 9 8-6 8-2 0-8 5 4-5 4-7-5 7-3 6-3 7-3 1-7 6-4 5 4 5-3m-69 23l4-6-6 0-5 1-7 1 3-5 0-6 8 3 5-7-3-6-4-4-8 0-1-9 8 3-1-6-5-6 9-1 0-8 0-5m3 61l-7-5 4-7 11-2-1-11 0-9 1-8-7 2-8-1m-2 41l2-5-4-4-6-1 0-9 6 4 3-8 4 4m186-43l6 4-9 2-10 4 2-5 5-6 6 1-3 6-8-1-2-7m13 2l0-7 2-8-4-7 8 2 6 2m-12 18l5-3 1 7m-1-7l-5-4m51-98l8-4 5 5 2-9 9-1m-24 9l4 9 3-6 4 6m-11-9l-3 8 3 6-6 1-2 7-4-7-4-5 0-7-6 5 1 7 9 0-4 7 8 0 8-2 7 5-6 9-7 2-8 2-3 8-8 2-6 7-8 4-6 4 0-7 6 3 6 4-5 5 7 7 6-4 9 3 3-7 6 3-1-6-5 3-1-6-7-1-5 3 1 8 2 7 5 5 9-5 2-8 5-8-2-10-4 6 0 6-6-3 2-9 3-8-5-6 2-8-4-8-5-7m21-15l-6-8-1-9m7 17l7 3 1-7 0-8 0-5m-253 130l0 7-8-5m5-11l7 4 5 3 7 3 0-7m319-95l-19 39 30 29 53 55-97 59-88 74 118 84 92-101-25-116m-399-37l3-6-11 2m15 3l-4-5 11 1m154-36l-5-3 0 8 5-5 2 6 10 0m-37-14l0-9 8-3m-41 36l-5 4-5 7m-36 79l-7-6 2-7-7 1 5 6-1 7m-126-10l-8-4m8 4l0 7 5-1 3 7 4-5 6 3-2-8 6 1-1-7m-21 3l-8 6 6 7 2-6m0-7l7-8-3-8-5-6 8 0-6-7-2 7-6 3 2 8 6-1-3 5m2 7l5 6-2 6 5 1m103-29l4 3 6 1-5 5 6 4m47-76l6 2-1-10 11 0 8 2 2-8 7 2-2 5-7 1m61 27l-10 2-4 7m14-9l0-5 3-4m-3 9l-7-5-9-1m16 1l-7 0-3 7m-112 5l3-4-6-1 6-6 1-7m148-30l-2 8 7 0-5-8 7 0 3 5 1 6-5 5-5-3-8 0-7 5-1-5m13-5l3 5 4-5 6 3 4 8-7 4-4 5-7-1 3-7 8 3m-121 65l6 1-4-6-2 5-5 2-6 5 7 3-1-8-8-1-7 6-5-3 2-7m3 16l-9-5-7-4-6 3m-149-21l0 7m0-7l-6 7 3 7 7-3 2-7 1-10-7 6m315-101l4-6-8 1-4 7 1 6 5 5 5 5-2 8-2 6m1-32l-8 2-4-5m12 3l0 5-7 3m12-48l9 4-3 9-1 7-6 2m-292 122l-3 6-6 0-5-3-7-2m21-1l1-5-7-2m6 7l3 7 7-4m-7 4l-3 7-6-4-3-4m12 1l5 5-2 7m-3-12l-6-1-3 4m126-49l-4 5m12-6l0 7m45-20l-4 5 8 0 6 4 5-7-11 3-4-5-5-2 1 7-4 7 2 5m-105 42l7-6 1 6-3 6 7-2 2-6 6 6m-20-4l-4 10-6 0m10-10l5 6-9 4m-38-14l8 5 5-3m215-109l8 5-2-7m36 58l2 11 8-9-1-7 11-3m-49-49l3 7 6 6m0-18l0 9 10 0-4 6m-6-15l-3-6m3 6l-8-3-6-4-7-5-9-8 12 0m-275 157l-7-2 8-3-7-4-1-6m209-44l-1-7 5-4m-31 2l6 1-2-5m103 4l4-5 5-4m-254 47l-8-2m272 241l-1-99 12-70m-222-90l1-6 7-1 7-2 4-5m-2 16l-5 4-7 5 4 8-7 5 7 4-6 2m-70 76l-36 19-19-23-28 12-15-25 8-8 6-7 20-21 3-3 7-8 7-7 4-4 6 2-3 8-7-6-3 4-4 3-3 4-4 4 5 6-8-3-3 4-4 4 7-8 3 8-6-4m112-14l-2 9-7-4-7 2-7-2 7-4-8-4 1 8 4 7 6 5 2 7-9-5 1-7 3-5m141-14l2-7-6 1-4-5m8 11l0 6 6 1 1-9 2-8m-9 10l7-2 7 1 9-3m57-95l-10-2m10 2l8-2m-8 2l-2 10m2-10l8 5 7-5 9 2 9 1-4-7 7 0 8-3-6-5 8-3m-46 15l-8 5-9 0m-197 78l0-7 5 0 9 1m230-92l8 3-2 8-3 7 6 6 5 7-6 5 7 1m-218 81l6 5 5 7 5 7 6-8-11 1-4 8-5-7 9-1 3-6 0-9 7-6-5-4-6 2 1-7-6 3 5 4m-62 83l28 22-41 6-48-15 18 47m-30-128l-2-5 10 2-5 7-1 8-10 0 4 8-9-3-10 0-3 3-5 5-5 5 11-1-1-9m26-20l-6-2 1 7-4-3m9-2l3 4 7 3-2-10-8 3-5 5-8 1m8-1l7 7 3 7-5 8-3 12m-2-34l8-1m-8 1l-3 7-5 5-1 10-11 2-6-4m275-98l3-6 6-1m-9 7l-8 2 8 3 4 6m-4-11l0 5m68-51l6-3m-6 3l-3 5-5-6-9 5m17-4l-8-1m-265 135l5-1m-25-17l-11 0 10 7-2 7-5 3 7 2-5 4 5 3-4 10-4-8-5-6-9 1-10 7m33-30l-1 7-8 3 1 7-9-2m17-15l6-3 0-6m114 14l-8-1 8-8 7 1 4 5-3 8-8-5 5-2 2-6m-2 6l-5-7 2-10-5-5 1-7 6 3m1 26l3 7 8 4-1 7m-10-18l6-1 7-4-1-6m162-145l-10-1 4-5 6 6 8 1-2-8-6 7-1-7 7 0m-153 126l-6 4-7-1-9 0-2-8-2-7m-42 188l49 85 92-47 81-61-93-21-26-39 12-24m-115 107l-2-49-3-29m5 78l72-8 3-58-14-28m-91-27l-8-2 2 6m265-183l6 5 2 7 3-7 7-4 8-1 6-3 7 4m-31 82l7 4m-131 36l-3-5-8 1m-74 43l-4 8-7-6-8 3m121-32l9 2-3-5 5-4 6-4 3 7-2 7-6 6-3-7 2-9 7 10m118-78l-4-4 7-2 9 6-12 0-8 4 10 7m10-11l-4-11-5 5m-91 163l44 60m6-220l1 7-2 8m-102 49l8-3 2-7 6 0 5 4 7 4-2-7-5 3-6 3-3 4m140-102l-6 2 5 6 7 6 7-7m-168 66l1 8-5 6-6 4-6-4 4-7-7 0 3 7m13 7l-9 4-5-4-4-2m101-33l6 3 7 3 7-1 4 8-6 7m-56-9l5 4-1 7-6-5 2-6-1-6m-79 72l-4 4m109-36l5 5 5-9m-43 16l6 6-2 9-8 9-3 10m7-34l-2-9-1-8 4-7 2 8 6 1-4 8 7 0-4 6-8 1-1 8 5 7 9 4 0-9-9 5-8 1-7 4 7 4-11 4 4-8m11-20l-6-5 4-4 7 2 3 6-2 7 7 4 0-6 7 1-5-6 4-7 3 6 8 6m-212-19l8-4 0 7m301-100l0 10 10 2m-54 34l6-3-4-6-7 2-5 1m-28-47l3-4m-130 126l-6 5-6-4m12-1l7-2-1 7-6-5m181-82l3 7-9-3m52-46l9 3-4-11-10-7 0-8m-109 67l-4 6-5 7 2 5-6 6 6 2-5 5-1-7-1-7-2-5 7 1-5 4m92-28l0-9-5-5 5-9-6-1-6 5-2 7 3 7 4 7 4 6-4 8 0 8-7-1-6 2m-153 36l-7 0m143-11l9 5-11 1m-192 28l-6 2-4-5-7-1m17 4l4-6 6-7-8-1m-2 14l-3-6-7-3 0 6 7-3m-123 24l4-5m240 15l0-8 3-8 7-2 7-2-5-5 7 0-3-6-3-8-1-9-7 0-6 0m-226 20l7-4m209 0l9 3m72-47l1-7m-113 41l2-7-7 3m200-115l-9 1-1 9-5 2 0-5-4-7 10 1-6 6m15-7l1 8 8-8-9 0m-136 141l2-5 7-1m18-57l0-7m49-3l6 4 7-7m-21-52l6 5 7 0-3 7-6 0 2-7 4 7 6 5 0-6m-18-18l5 0m-273 160l-7 2 4 5-8 2 6 3m-100 54l-26-14m26 14l-40 1m40-1l-8 53 55-42 18-27m-65 16l11-28-26 3m15 25l47 11 1-31m355-186l6-3 1-8-6-4-6 2m-57 47l5 6m-159 320l23-93 57-36m-127-125l6-2-2 9m-18-38l7-5m-88 91l3-5-8-1 6-5 2 6m84-71l-6 5-4-5-2 7-7-6-9 5-7-1m170 37l9 3 3 9m-19-13l-5-5 1-6m156-91l-3-8-6-2m-309 135l4-7m187-43l-7-6-5-7-7 2 5 5 7 0 1-7m-117 18l-3 7 6 6-6 3 0-9m102-60l10-6 5 7m-47 61l5 3-5 2m-16 91l6-27m-82-33l1 8-7 0-7 0-7 2 3-5-5-2m10-57l6-2-5-3-1 5-5-3 6-2m5 67l5 9 2-9m242-21l-31-3m-2-159l5-1m110 62l-28-1m-314 120l4 3m-10-52l-5-3-4-3-1-8m180-83l5-26m-101-15l-19 20"/><path d="M467-267l-4-17 13 4-9 13-19 12-23 7-9-22-3-15 12 4-9 11-15 19-25 7 10-17-1-15-16 6-21-3-15 15-17-4-20 8-17-16-12-12-14 15-11 11-14 15m239-26l20 1 22 10-8-18 20-6-20-8-16-4-9 12-4-12 13 0 11-6m-29 31l-18-7 14-10-14-4-11 6-13 1 8 13-17-2-17 0-14-6 0-13m49-128l-11 9-6 15-6 13-14-10-6-22 9-10 10-10 9-10 9-10 9-9 10-10 9-10 8 13 12-13 14 0 13 0 14 0 13 0 14 0 13 0 14 0 13 0 14 0 13 12m-177 52l5-17-11-18 23 0-4-19 17 3-1-13 13 0 3 13 11-13 3 18 10-18 7 18 7-18 8 17 5-17 10 18 4-18 13 15 14-15 5 16 8-16 7 18 7-18 5 18m-169 46l2 20-13-11-3-16-1-18 20 8 12-18-14-9m-3 44l-14-7-10-8m24 15l16 0-11-17-19 10-20 2 8 14-17-4-9 9-10 10-9 10-14 15m71-56l-12 16 15 0m174 95l9-18 6-13 13 11-19 2-14-2 5 20-16 3 0 20-21-3-19-2-5-15-10 10-5 20 20-15-15-5 1-13m70 0l-13-10-3 13m16-3l20-2-11-16-6-13-8 11-8 10m-97 57l-11-14 13 0 12-8 13-7 7 15m-34 14l2-14-4-12m2 26l14-8 0-14m-223 5l1 13-18-5m236-168l-18 14-14 11-6 19 17 9 10 9m11-62l-2 23 14 11-12 4-2-15-16-9-4-21-24-2 13-16 11 18 22 7 15 17-3 17 17-1 5-20 17 9 4-19 13 13m-68-16l-4-20-18 13-14 17 18 4 1 21-15-10-4-15-10-19m46 9l20-2 14 15 21-10 16 4 2-14-18 10-20-8-1 18-19 4-17 6-15 12-4 18 16-1 1 13m4-65l13-20 15-1 7 16-15 3 8-19 15 1 12 23 5 16m132-25l-1-13 4-12m-392 201l-4 19m4-19l-21 3 10-15-9-10m20 22l16 11 15-12 17 1-10-10m-38 10l-11-12-12-7 10-11 10-11m3 41l17-6-14-6-14 0m28 6l-1 17m1-17l12-7m-12 7l14 5 2 16 18 8-3-23-1-16 12 6-11 10m116-195l15 0-4 18m4-18l14 5 17 0 7 18-5 19 14 16 13-4-8-16m130 41l19 8-21 11-14 20-11-11-8 10 19 1-2-20 16 0 2-19 13-13 6 21 16-17-22-4 10-11 18-1-9-12 17-2 14-15 5-22 20-16-17 0-3 16 20 13m-88 63l-10 10m10-10l-4-13m-353 81l17-18 14-15-10 11m407-138l-12 7 9 9-17-1m17 1l-13 10 8 12-17-3-10-9m-281 185l-12-12-5 12 2 19-15-10-17-9 8-14m164-11l12 18-16 20m4-38l14-8 14-4-9 14-7 16m-12-18l6-14m87-52l9-9m-163-38l17 3-5 14-12-17-21 9-12 16-11-14-19 4-20 3-15-13-1 20-9-10m29 142l24 3 8-20 15 13 1-19-11-8-5 14 16-6 0-14m267-167l-9 9 3 18-8 14-6 16-12-15 9-13 6-11 11 9 20 15m-422 88l13-14-10 11m221-120l8-15 17-3 0-15m-181 237l-25-6m261-94l14-7-4-12m-335 60l-15 16m87 4l10 13 0-14m96-134l-15 1 9 18-23 2 0 19m15 11l11-6 4-12-7-14-2 17m48-12l4-15 9 12 8-13 13 7m-34 9l-8-11m8 11l-13 3 8 10 5-13 13-3m-17 123l-12-6m86-38l-6 11 12 17m-55-10l-12 5 4-12m-132 46l13-9-5-13m17-97l13-1-7-12-9-15-11 18 4 12m211 87l5-24 8-18 1-18-12-4m-56 42l11 6-3-15m4-128l16-1-10-14-19-1 13 16 6-15 15 2-5 12m-16 1l6 11m-6-11l12 7m9-20l4 12m-69 41l3 13m-90-37l22 1-11 16-14 20-12 16m131-29l-7-11 0 14m132-17l13-2-4-13m-308 77l-6-11-12-10 18 0 4 13m-4-13l16-7-3 17-13-10" stroke-width="6.0"/><path d="M697-528l-31 47-42 0-42 0-42 0-42 0-42 0 31-47 11 47 31-47 11 47 31-47 11 47 31-47 11 47 31-47 11 47 31 0 0-47-42 0-42 0-42 0-42 0-42 0-31 0 0 47" stroke-width="6"/></g>
<path d="M356.6 458.0V453.9H380.3V458.0" fill="none" stroke="#111" stroke-width="1.3"/>
<path d="M310.8 506.1H402.8V458.0H356.4Z" fill="none" stroke="#000" stroke-width="1.0" stroke-linejoin="round"/>
<text x="358.0" y="515.4" font-size="8" text-anchor="middle" fill="#000" stroke="#000" stroke-width="0.15">F</text>
<g transform="translate(106.9 588.5) scale(.1)" fill="none" stroke="#000" stroke-width="9.5"><path d="M620-457l9 2 5 8 9 5 1 9-1 8 4 4 0 6-5 3-2 7-10-3-1-10-9-3 4-6 8-1-2-5 7-4 6-5 8-1 3-4 1-7-6-3 8-5 7-5 5-7 5 0 5 0 5 0 5 0 5 0 5 0 5 0 5 0 5 0 5 0 5 0 5 0 6 0 8 0 11 0m-134 17l8-9 5-8 6 0 5 0 5 0 5 0 5 0 5 0 5 0 2 7 3-7 5 8 5-8 4 9 1-9 7 6 3-6 5 7 0-7 6 4 4-4 3 5 2-5 5 7 5-7 2 11 4-11 6 9 2-9m-123 17l-5 9-2 9-12-3m19-15l3 9 6-7-1 9 6-1 3 10 7 4 7 5-8 3-6 0-5-3 0 5-3 5-5-9 6-6 7 3-5 2m-12-29l-12-2m22 51l-7 1-3 5-6-1-2-7-5-3 7-5-2 8 6 1 2 7 5 7 6 6-4 6-3 6-2 7-9-1-5-3 0-9 6-7-10 0-6-6 6-2 0 8 4 7-6 7 6 2-4 4-5 1 0 9 9 2 8 2 6-2 5-5-5-7 8 0-6-7 8 0-5-6-5-6 9 0 1-8-7 2-3 6-8-1 3 7 10 0 6 0-2-6 7 4 6-5 5 7 1 8-7 0 3 7 1 8-5 9-2 8 3 7 6-7-9 0-5-4-2-6 9 2 7 8 3-10 8-2 8 3 2 12 2 34-23 15-12 57 77 88-63 146-93 0-93 0-93 0-93 0-93 0-93 0-93 0 333-344 108-111 19-19 7 0m163 66l6-4-7-6 10 0 4-7-6-5 7-3 7-4-8-5 4-7 7 2 4 6-7-2-4-6 2-8 1-9 4-8 4 5 6-5 0 7 1 7-5 4-3-6 8 2 8 4-7 5-6-5-5 2 2-8-7-4-1-8-5 5 0-5m-14 66l-7-6 6-4m1 10l3 6-1 5 6 5-7 3m-1-19l-3 7-7-1-3 6-3 6-4-7-6 7-10 2 4-8-8-2-2-8-9-4 0 10 11 2-6 7-9 2-5 7-4 7-6 4 2 8 2 6-2 5-8 1 0 8-6 6 4 5-5 8 5 3-5 4 0-7-8-4-8 2-5-6 1-7 6-3 7-6-2-9-2-8-2-5-6-3-11 1 8 8 3-9 8-1 1-9 12-2-3-10m90-17l6 0-3-6 8-3 4-7 6-4 4 7 6 4 6-6-3-10 1-10-5-4-1-9 6-7-7 0-6-2 1-5m-23 62l4 7 7 7 8 2-2-7 1-9-7-3-8-3-2-7-5 2-8-4-7-6-4-6-4 10 5 11 6-3 3 7 0 7-5-2-4 6-4 6-6-1-3-6-3 8-2-9-6 7 2 5 6-3m38-16l3-6-7-5m8 80l-6 3-5 6-4 9-5 8-8-5-7-2 0 6 7-4 6-1 7-2-4-11 8 2 9 6 5-8-9-4 1-7 7-4 10-2-5-7 6-7-7-1-8-3 5-4 1-6 0-9-6-2 0 7-5 2-1 6-2 7-3 7 5 4 1 6-6-3-5-2 0 6-6-4-3-7-5 5 3 8 5-6 1 6-6 0-7 7-6 7-8 0-3-5 6-6 11 4-2-8-3-9-7-7 7-2-4-7-3 9-8 0-5 5-3 6 3 6 7-2 7 5 9-4 6-7 0-9 5-4 0 8-5-4 0-7 4-4 1 7 5 7 4 6m27 15l10-2 11 5m-262-1l-8 3 6 4 3 7-4 6-9-2-4 7-9 1-1 8-6-2 7-6 3-7 6 6 6 4 3 6 7 2-1 8 6-1-5-7 4-5 3 6-7-1-8 5 7 3-4 5-7 6-2 8 4 8 11-2 7 10-12 0 5-10-7-6-8 0-9 5 3-9 6 4m14-64l-2 7-4 5 7 2 4-7 8-1-5-5-8-1-2-9-7-2-5-5 2-8 8-5 2 8-10-3-10-3 5-5 5 8 6 7-8 1-6 4 0 8 4 7-3 6-5-5-7 5-7 9-8-3-6 4-6 5-10 3-12 1-9-3-3-10 3-3 4-4 3-3 7-8 43-44 65-67-19 20 25 9m-39 85l-7-5-2-6 3-6 4-4 5-5-7-3-5-8-8 5-5-10-10-5 37-38 28-29m-33 114l5 7-7 0m2-7l5-6 4-5-1-6 7 2 5-7 9 2-1 7-6 5 3 6 6 0-2 5-4-5-3 7-9 1 0 10 0 8 7 2 5-5-6-3-6 6 0 9-9-1 4-5 5-3-7-3-5-7 7 0 5-8 5 6 1 6 1 8-7 7-6 5-2 6 5 6 5 6-8 2 4 4 4-6 1-8 6-3 2-6 7-5 3-8 3-8 2-7 7 6-9 1-6-9 8 2 2-6 10-1 8 8-5 8 0 7-1 7-1 7-6-3 7-4-5-3-2 7-6-7-6-5-4-5 7-3-11-3-1 6 5 0-4-6-7 3-6-2 5-4 4-7 9 4-2-6-7 2 4 10 5-6 4-3 4 5 6-1 6-6 9 1-1 7 9 1 7 1 6-5 7 5 2 6 1 6-4 4 0 6-10 1-7 4-5-5-4-5 7-5 5 4 4 7-7-2 0 6 1 7 8 2 7 1 6-2 5 1-5 5-6-4-4 5 1 7-8-6 7-1-3-6-4 7-10-4-6 2-2-4 8 2 6-5 4 9 2 9 6-3 5 8 5-2 5-1 5 8 11 0 11-1 10 7 1-10-11 3-3 9-8-8-4-6-7 6 2-10 5 4 8-2 7 7 1-8 8-4 8-5 0-9 6-9 6 1 5 5 9-2 6 8 1-11 10 0-2-10-5 4 7 6 6-7-8-3-2-7-8-2 6-5 10 2 8-2-3-5-4-7-5 6 4 8 8 4 2 8-8 3-1-7 7-4 7 4 0-8-2-7-5 5m12-59l7 6-7 1-4 5m4-12l-9 0 4 5 5-5 5-6-5-7-3-7-7-3-3 8m13 15l0 7 5 6-4 6-2 8m1-20l-5-2m62-16l4 7 4 6 11 4-7-10-4 6-1 8-11 1-2-7 3-7 7-1-3 8-5 7 6 10 12-3-7-8-6-6 7-2m-8-13l-7 3 4 5 4 7-7 0-6 2 8 5-8 4-9 1 4 6 3 6 6-7 4-10m4-22l-3 8-6 2 3 5m6-15l8 1 6-6 2-6 4-7 7 5 7-9 8 6m-42 16l8-7 6 2 2 6 7 4-11 2-8 0 4-6 0-8 8-4 11-2-2-9-5 4-3-5-10 1-4 6-3-3 7-3-7-3-7-2-6 6 4 6 6 2 6-3-1 7 6 2 0-7 8 3-3-7 7 0m-20 18l-5-5-2 8-5-5-7 0 4-5-6-2-6 5-3 8-5-8-7 1-5-4-2 6-8-1-7-1-3-9 0-7-6 2-7-6 2-9 8 7-10 2 0 6-6 5-9 6-5 5 1 6-7-2 2 9 3 9-7-2 1 7-5 5 8 3 9-2-6-4 0-7-6 5-7-3-7-3 2-8 4-6-10 3 6 3-8 3 6 5 1 9 8 2-5 5-3 7 6 5-6 3 7 3 6-5-5-7-2 6 7 1 1 6-3 5-3 6-7 1-3 6 0 7-5-3-6-1-2-10 1-10 8 1 7 0-1-6-7-3 1 9-3 6-6 3-6-6-6-5-10-4 11-5-1 9-6 3-4-7 2-9 9 4 5 6 2-8 3-7 4-6-6-2 4-4-4-5-2 4 6 1 2 6 5-4 6-7-10 0-6-9 10 4 2-6m125-9l2-9-7 4-7 3-3-5 6-2 0-6 4-5-2-7 0-8 3-8-6 3-3 9 0 10-7 3 0-8-7-1m-55 40l2-7-9 5 7 2 3 5 7 0-3 7 5 5-5 4-11 0 4-7-5-8 5-6 7-1 5-8m-10 2l-10-3 1 8 2 8 8-1 4-6 9-1m-14-5l5 6 3 6 2 6 4 3-4 3 4 6m-14-30l-2-5-8 2-10-4-6 4-9 3 2 9-1 8-6 6 3 7 5 6 8 0 9 2 1 9 7 0-6 7 9-2 3 6-6 6 2 7 8-5 5-7 8 0-3-6-9-1-4-5-7 0-2-5-6-4-5 6-7-1 3-7 6-4-6-4-6 3-7-1-9 1 6 6-7 5-7-2-5-2-7 2-2-9-1-7 7 3 6 4 10 0-8 9 0 10-7-4 0 8-2 8 4 7 4-9m102-36l5-4 4-7 3 8 4-6 5 5 4 6 2 10-9 7 1-10m-19-9l6 4 10-1 5-7 0-9-3-10-4-9-4 7-7-1m-3 26l-3-7-6-6 6-2 5 4m-2 11l-7 0-7 1 0 7 5-3 2-5-4-6 8-1-4 7 4 6-5 5-5 5-6 3-1 9-6-7-4-7-9-1-8-3 5-6m42-4l-3 6 4 7m-270 59l-2 12-8 9 1 26-4 50-57 68-23 127-59-93-34 93-54-136 171-177-303 313 67-69 26 69m279-292l-5-9 1-8 8 0-8-7 2-7-8 4-6-3 0-6 6 2 0 7 6 3 0 7-8 3 7 5 8 2-3 7 8 7-10 5-4-9 6-3 8-1 7 5 9 3 6 8-4 8 6 8 4 10m-36-41l-9-3-8-1-11 2 8-9 3 7 3 10 5-9 4-6 6-3 3-5 2 5 4-3 5 3 5 4 2 7 2 8 10 1 9 1 3-8 6-2 6 4-7 4 1 6-5 0 1 6-11 2 1-7 5-5-4-7-4-6m-27 11l7-3 7-5 9 2 3 7-4 7 8-1-4-6 5-6 7-1 2-8-5-4m-35 18l0-8-5-6 7-1 0-7 6-3 4-6 2 9 7 1-1 7-8-1 2-7 4-5 5-3 2-6-3-8-6 6-10 1-6 2 3 5 5 5-1 6 7-3-6-3m-8 25l8 4 8-4m241-140l0-5 0-7-7-3 4-7 6-3 3 8m-17-32l7 0 4 7 2-7 5 5 6 3-8 5 7 4-7 2 5 6 8-5 5 5-6 2m-28-27l-10 0m10 0l2 8 1 11 6-6 7 0 0 6-2 5 7 1m-303 95l3-4 29-30 9-8m-41 42l-4 3 36-37-4 5-4 4 8-9-18 19 3-3 4-4 3-3 8 0 0-9-22 23 4-4 3 8-7-4-3 4-4 3 7-7 0 9-3-5m-7 7l4 5-1-9-7 7-3 4-4 3 7-7 1 8-4-4m3-4l8 2 7-1-2 8 6 3 8 1 7-4 1-5-3-6 4-6-1-5 2-6 9 2-5 5-5 4 6 2-2 6-4-8-7-2-8 0 3 8-9 3 4 5 0 6 1 7 7-6 6 2 1-6 6-2 8-1 8 2 4 5 1-8 5-4 4-5 7 3 6-4 7 7 1-8-3-6-8-2-4 7-6 3-4-7 7 1 3 3m164-15l4 6 3-8-7 2-7 0 4 5 2 6 9 2-4-7-7-1-4 2-3 6-3-8 6 2m7-7l-3 5m3-5l-1-6-9-3-9 3-6-3m-49 63l-7 4 5 6-9-2-2-5 6 1m7-4l8-1-3 6-5-5-8-2-5 5-8 0-9 1-4-7-5-7-8 2 0-10 7-6 0-8 9-3 4 11 6 4 4 7-9-1 5-6 2-5-8 1-7-3 3-8 10-6 9 2 0 11 6 7 3-7-9 0-7 3 5 5 8-1 7 7 7 3 6-1 6-1 7-2 7-4 7-8 1-11 6-8-7-2-7-2 3-5-7 0m-30 55l-2 10 7-5 6 0 7-1-1 9-7 6-7-2-5-7-9 4 2 8-3 7-3-8-6-6-1 7-6-3-9 3-9-3-8 4 2-7-8 2-7-6 9-3 8 0 6-4 7 4-8 3 5 3-6 4 0 6 5 4-7 2-4 7 10 5 7 3 3 10 5 10 12 2 4-10 1-9-7 3-10-3-5 7-8 9m40-65l4-7 4-4 1-5 2-8-8-3-6-1 4-5-1-11 6 8 7 3 7-5 6-4 4-4-6-1-2-7m-22 54l-3-8-7 0-7 4-6-4-3-6-1-10-6 8-6 6m180-69l-8 0 1-7-7 3 6 4-1 6m9-6l4 9-2 6 6 3 4-7 8-4-2 7-6-3 3-9 3-7 4 4 2-8 3-6 0-6-1-8 6-7-9-3 6-6 5-8-8-5 6-10 0-8m-32 76l0-10 6 5 7-4 5-2m39-58l6-3-1-4m-5 7l-4 6-6 0-6-4-9-1-8-1 2 11 2 6-9-1-6 2 0-7m44-11l-8-1-2-6m10 7l2 7-6-1-4 6-4 5-5 3-6-4-6 1-4 3 5 4-1-7m29-17l8 4-2-7 7 1 1 6 6-4 0-7m-190 190l8 6 1-8 7 3 9 2 0 12-8-6-9-3 2 9-10-5 0-10 9-2 7-6-8-2-7-4-2-7-10-1 1 9-8-3 2 9 3 4 0 4-5 0 5-4 6 6 7-3 1-7 0-7 7-5-9-2 5-6 4 8 0 9 1 8-5-2-4 4-7-6-6 3m6 6l-6-2-1 5-2 7m9-10l-1 8-4 8m5-16l7 7-8 1-6-5-7 3-7 2-6-5-9 0 0 6 5 2 4-8 1 6 1 6 9 1m16-16l-7 3-4-5-3 8-4-9-4-7-1-6-4 5 0 6 0 8 9-6-9-2-5 3-4 5m36-3l0-9 3-5 5-3-6-3 4-4-3-8-6-2-3-5-7 0-4-6-3-7 2-7-9 0-2 7-2 6m-66-9l-3-6-6 7 0-11-4-6m-115 225l70 127 36-114 57 114 28-109 65 109 31-127 62 127 93 0 93 0 107 0 0-93-107 93-12-109-81 109-30-146 111 37 119 16 0-93 0-93 0-93 0-102-93 0 93 102-112 10 112 83-120 39 120 54-119 77-1-131-110 94-125 19-96 18-85-5-106-13-109-71 39-41 25-26 46-48 30-31-3 4-4 4 4 4 0-8 7 5-4-9-21 22 4-4 8 4-5-7 9 3-5-7 7 1-2 6 7-1-5-5 7-3 4-8-8-1-25 26 4-4 7 6-11-2-5 5-6 7-22 23 28-30-236 244 119 69m116-127l-82 34-27-105-61 62 125-129 41-7-10-24m14 169l-19-93-26-45m80-70l-2 8 4 6 1 7-7 10-5-9-10 7 1-10 5-6 4 9 5-7-5-6-4 4 9 2 7 6 5-8 5 5-3 7-7-4 2 9 2 11m-7-41l6 7 2 6-6 1 4-7-8 1-2 7 6-1m-2-14l7-1-3-7 7-6 5 7 6-3 5-8 8 0-3-8 6-3 6 1 1 6 6 4-8 2-8-2-3 7-2 8-3-6-5 5-8 6 2-9-6 2-6-3m2 15l7 2 6 4 0 6-6-1 0-9-5 4m-2-6l8-5 5 5 4-4 2 6 6-5-1-7m-24 10l1-8 3-4 1-9 6-7-7-2m85 56l-2-6-2-7 7 0-2-5m-1 18l6 3-8 3 0 7 7 4 2 6 8 3 7-5-1 5-6 0 0 7-3 7 11-1-8-6 5-2-5-5-3-7 10 2-5-7 9 0-3-3-6 3-5 5-5 4-1 7 6 10-10-2-2-6-6 3-10 6 12 3-2-9-6-6 8-1 4 4 6-2 9-4m-15-26l-6 1 4 5 6 4 8-2 5 6 3-8 3 5 5-3-2 6 5 4 4-2 2 5-5 5-1-8 2-6 4-7 4-8 5-1 3-5 4-5 4-7 0-9 3-7-7 0m-46 32l-9-1-9 0-5-6-2-6-9-1-6 3-7 2m47 9l-1 8 6 5 8-2-6-5 2-9-1-6-2-7 8 6 9 3 7-3 7 2 4-6 3-6m-44 20l-4-8 7 0 5-1 6-1 1-7 8 3 10-1 4-6 4-5-7-2-5-1-2-7 6-3-6-5-9-2-6 6-5-6-9-8 12-2-3 10-10-1-5-3 6-4m-64 57l-5-5-7-3 7-4 7-1 1 8m-3 5l2 5 3-5 4 4 5-4-1 8 1 8 1 7m-15-23l5 0m189-25l-5 1 4 5-1 6 5 3 1 6-7 3-2 5-4 6-8 2-2-8-6-3 2-8 3-6m20-12l-2-5-4-6-1-6m7 17l-1 6-7 2 6 4 0 6 5-3 3-6-8 3-7 6-2 10 8-4 6 3-8 2m5-29l6-5-8 0-6 0 3 6-3 7-7 0m15-8l5 3-6 3 7 3 8 1-2-7 8 2-1-6 4-6 4-5-1-6 1-7-8 2 2-8-7 4-2-6m-202 30l-4-4 5-2-4-4-5-4-5-7 5-8-5-6-3-5 8-1-1-6m9 47l2 8 7 2 4-6-1-4 6 1 1 8 3 5-1 6 7 2 7 1-3-6-4-6m-28-11l1-6 2-6-5-3 5-4 8 6-4 8 8-1 8 0 2 9-7-2 5-7m-23 6l-9 1 2 8 9-1 1 4-5 3 8 2m-6-17l7 2 5-2m-34 36l4-4 8-1m242-128l8-4-1 7 4 5m-11-8l7 3 8-1 0-9 6 3 0-7-2-6-3 4-2-6 5 2m-19 17l-5 10 3 6m-51 112l2 7 9-1-3 6 6 7-11 1 5-8-6-5-2 6-6 5 1 8 8-6-3-7-6-4m6-9l-8 1-6 6-7 3-5-4-6-2-6 6-2 8-7-1-3 11-4 7-6-4m60-31l-6-6-8 4m6 3l2-7 2-7-8 3-6 0 3-7 6-6 8-3-3-5 3-5 6-3 7 1 5 5 8 0-2 8-6 6-1-6 7 0 7-4-5-4-1-7-7 7 1-10-6 5m-209 39l-7-3-10-2-9 1m26 4l1-6-8 3-5-7-5 5m17 5l4 5 3 6-8 3m177-64l-3-5 6-2m-6 2l-4 7m4-7l-6-2-8-3-12-3-6 10 3 6 6 7 8-3-4-7 6-2-1-8-1-12m15 17l0-6-2-5-5 2-7 4-6 5-5 3 2 6 0 6 6 5-8 2-4 6-5 6-9-2 4 7-5 5 7 0m80-78l3 4-8 3m8-3l7 2-6 4 8 4m-9-10l6-6-5-9m-1 15l1 6-6 6m-214 178l49 81 24-73 61 78 13-73 83 55 48-107-55-8-3-27-20 17m-200 57l73 8-21-44-20-20-28 6 27 26-31 24-76-25-51-19-100 103-65 67m292-126l-30-53-31-24 9-25m40-13l7-1-4-6m277-46l-9-1-5 1m-203 8l-8-3 4 8 7 3 3 7-3 6 3 7 5 2-7 5-5 5 7 1m-6-41l3 8 8 1 9-3-3 7 6-1 5-5-2-6m-26-1l3-6-2-6 3-10-10 7-6-1-2 6-8 4 6 4 0 8 5-3m260-49l1-6-6-5-7 4-5-4m64-25l1-6 0-6 2-6 9 0 2 10-5 9-8-7 5-4-5-2-4 2 4 4-7 2-2-7-6-2-3-5-1-10-6 6-9 3m33 19l9 1-8 6 6 7-5 7-5-6 10-1m-7-14l1 7-4 8-8-1 4-5 8-2-6-4-2 6 4 6-4 6 9 0m-2-21l-5 3-6-1-8-2-2 8-6-5 8-3 0-10 2-8 5-6 2 6 2 7 5 1-3 6 6 4m-5 3l-1-7-5 6 4 7-8-1-6 0-5 5-7-3-6-2-6 4-7 5-7 5 0 7-7 3m-75 94l6 3 7 2-2 9 7-3 3-6-8 0 5 6m-18-11l-1 6-6-6-6-3 7-7-4-6 4-7-7 2-7 1 2 7m18 13l-7 0 1-10m-146-40l7-4 3 9 8-1m-3 99l6-6-8-3 2-7 10 2 9 3m-36-98l9 2m132 133l30-10-17 37 24 78m-37-105l13 27 72-29 91-20-14 108m-162-86l-29 9-5-27m5 27l-30 5 13 36 59-23-42-18 14-22m-14 22l-22-16m22 16l-17 41-74-5 3-42 29 17 29-6m-20-70l-4-9 10 4 5-4 3 6 4-7 4-7 7 3 7 0-5 5-7 0 3 5m-27 4l4 10 6-6m-10-4l-4 7 2 8-5 6-2-9-6 4-4-9 9-3 6 3 8 3-6 5 8 3 6-5 4 8 2-5-6-3-8-3 2 8 5 9-5 8m210-202l-8 4 1-8-3-7m10 11l7 0 7 1 4 5m-18-6l-7-4m-3 25l-3-9 6 1-1-9m-2 17l1 10 1 8 6 4 4-5 4-6-4-6-4-8-5-5 5-5 6 4-1-7m-13 16l3-8m19 35l-5 9-8-1m2-6l6 7 1 9m-350 49l4 7 9 1 8 1 5-5m23 13l-6-5 5-3-3-7 4-5 5-3-7-3-6 4m11 27l4 3 2 5-4 4m33 42l4-8-7-9-8-4m36-52l-9-5 1-5 5 2 3 8 2-9-4-7-11 0-8 5-8-1m31 3l5-5m-5 5l5 3 6 3 7-3 6-8 9-7 6 5-6 6-2 8 6 6-9 1m-28-14l-5 1 1-8m-18 74l-8-2-1-8 6-3 1 7 7 2-3-5 8 0m-18 7l6-4 4-3 3-6 2-7-8 2-2 7 5 4m-10 7l-3 7-4-5-4 6-5-4-6 6m22-10l-7 2m246-158l-5-6 1-8m-232 125l-8-3m88-1l3 5-3 5 3 6 6 8 6 5 1 6m107 61l-17-42 29-15 8-35m-20 92l49-50-37-7-14-22m2 79l-35-27-20 19m77-145l-8-2 4 9 7 3-5 4-7-2 5-5 2 7m5-4l3-7m-4-31l-7-5-3-8 5 1 5 2m0 10l8 1 5 1m-13-2l-1 8 5 4 6-4 5 4 6-5-5-2m-150 120l-3-7 5-4m-2 11l8-1 3 3 4-6m-15 4l-9-1-9 7 2-11 5-5-3-8 10 2 7-7 8 2-3-8 6 1 3 7 6 4 8-4m-68 26l5 2-1-7m-110-47l-4-7 0-7m4 14l-6-1m6 1l0 7 2 8m192 16l-8 4 6 5-4 7 10 1m-4-17l5-6-2-7-5 5-6 0m8 8l-2-8-5 6-1 6-3 7 5 5-2 8m-131-61l5 3-7 2 6 3 6-1-5-4 6-2-1 6 4 5 1 7 5-3 3 6-9 4-5 7m-9-33l-1-5 7 2 6-1m-12 4l6-3 1-7m147 6l-8 1 1-6-5-4-2 6m6 4l-5 5-6-3-4-8-6-5m260 117l-96-14-42-30 6-43 51-25-2-34 6-28 22-25 30-35 52 0-19 112-89 10-40-8-11 33 34 24 17-49 30 49 51 63 8-122-59 59-45 49-2-49-40 19-14-22 20-21m-35-135l1-7-8 3m-207 131l1-5 1-6 5 4 6-3m285-120l-10 2 4 9-9-2-8 1 0-8 5 3 1-7-7-2-5 6 6 0m13 0l-7-4m7 4l-5 7-3-4-5 5-6 8 8 2 7 6-12 3-3-11-3-8-3-5 6-3 6 8 10 7-8 3m11-18l-8 3m-181 97l6 6-1-10-4-7 4-5m-178 18l1-7 5 4m328-90l-5 6-5 5-6 6m16-17l-3-7-4-7-8 3m15 11l6-1 3-8m-9 9l0 7m0-7l3-6m-292 140l2-7m312-121l7-6m-7 6l-2-8m2 8l-1 9m-373 83l7-5 3-6-6-2m-4 13l1 6m-1-6l10 3 0 9-5-1m126 41l3-7 7 6m117-105l-5 4-6 2 0-7-7 0-6-1 6-5-10-3-5 10 9-2 0 6 8 1 5 1m6-2l-6-5-5 6-2-6m-212 54l6-4-2-7-3-7 8 2 7 2 1-7m162 38l-2 6-4-3m21-19l5 0m42-51l4 6 6-1m-32-9l3-8 10 1 9 4-5 5-4-9 2-8m-109 93l-9 0 5 6 7 1 7 1 3-6-5-4 6-1 5 4-2 6 7 0-3 6-4 5m62-15l7 0 9 1 5-6-3-8 11 0 7-2-5-5-2 7-1 8 7-1 6-5 2 7m-176 17l3 7m55-4l2 6-4 6 2 7-6 4m154-54l-7-8 5-8 9-1 10 0 5-11m170-101l-43 43-9-43-28 0-20 17m-130 121l-5 8 9 3m-5 8l-2-6-2-5-4 6m8 5l-1 10-12-3-9-4-1-8m23 5l-8 3-5 4m28-37l-7-1-1-8-5 4 0 7 5 4 1-7-6-4-5 2m11 2l6 8-7-1m-199-22l5-11m45 68l-3-4 1-5m-1 5l-2 5-7 1 3-6 0-7-7-4m13 11l-6 0m6 0l6-1 7 0-3-5-5-5-4-7-3-7-1-5 0-6m-72 47l-6 6-8-3-6 3 2-7 4 4 6-4m8 1l-6-8m6 8l3 8 8 1 2-7 7-2 4 6 2-8-5-7-1 9 6-2 4-7 5-7 3-5m56-27l-9-4-10-3m12 10l-2-7 0-9-7-7m-122 51l6-3-1 7-1 6-6-5-2 8m4-13l5 4-7 1 2-5m133-7l-9 2-8-1-3 5m-56-109l-19 20m379 103l-47 0m-145-31l-5 4 3 4m-101 89l-14 25-8-27m50 57l-42-30-32 25-42-32 1-32m17-53l-3-6 4-5-6 0m229-44l6 1 9-2m43-33l-8 0 4 6 4-6 6-5m-25-49l-6 4-7 2-1 9 7-2-6-7 2-8 5 6-1 9 3 5m-16-14l0 6 7-4m-288 118l5 6 4-7 5-6 6 2m29 49l-4 2 0-6m218-100l5 4 0-6 6 4 5-2m-37 69l7 7m-6-132l6-2-2 8 7-3 1-6 5 2-6 4-5-5 6-1m-69 154l8-1 8-1m-145-52l-6-4 2-10m111-14l-4 4m99-89l7-1-2 9m-258 68l-4-4m4 4l10-4-3 8-7-4 1 9 4 7 7 2 0 8 6 4 2 6m-20-36l-7 6-4-3m4 3l8 3 6-5m-14 2l-5 6 6-1 7-2m-8-3l1 5m196-7l-5-4-8 5m-35 83l-7-4-7-2-2-5 2-7 9 1 4-6 4-6 7 0 7 1-5 6-2-7-4-6-4-5 1-5m173-125l2-7m-126 116l0-8m-70 7l7 1 6 2-4 4m-99 68l5 1m-40-70l-6 1-5 2m230-10l-6-6m47-101l-7-5 9-1-2 6 1 5 6 1m0-6l-5-6 7-2-2 8-6 5 4 6m-187 119l6 4m241-114l-7-2 2 8-4 6-3 6-3-6m-219 162l8 4 10 2 5-6 6 6 7-5 1 11-8-6-11 0 7 10m-25-16l-11 4-2 10m13-14l-8-5-5-4-1 5 3 8 3-9-6 1m199-157l0-9 6 5-1 5-2 7m-461 222l90-22 15-52 27-14 4 38 34 3-17-27-17 24-46 28m367-155l-6-6-6 2 0 8m170-60l-39-8 2-35m37 43l24 69-58-36-31 46-28-28 26-6 33-12-5-41-28-1 6 26 27 16 34-33m-588 338l-88-43m368-142l-5-5m-151-53l7 3-1 7 6-2m315-79l-2-7 5-5 6-5 8 1-7 7 1 8 5-4m-174 62l-1-5m-96 15l5-6m63 49l7-1 6 1 5-5m102-62l0-6m-53 95l-7 6m50-72l10-2 7 4-4 4 7 0-4 6 6 1-2-7-3-4 4-4m-75 5l5 7m-73-9l-4 4m-2 32l3 7-9 3-8-2m121-24l3 6 7 2 8 2 7-4-9-3-6 5 3 6m2-106l-4-8-1-12m-144 43l-5-11m139 66l-1 8 4-4-3-4m122-89l4 7-8-1-3-6 7 0m-72-25l-8 0 4 7 4-7m-106 123l4 5 3-6-7 1"/><path d="M453-382l-14-7-16 0-21-5 2-22 9-10 9-9 10-10 9-10 10-9 9-10 5 15 16-15 13 0 14 0 13 0 14 0 13 0 14 0 13 0 14 0 13 0 14 0 4 17m-167 75l19 1 16-13-10-14 15-6-5 20 18 12 3-21 20 3 17 5 17-8 7-17-8-15-17-11-17-10 7-18 8 13 5-13 13 15 14-15 18 13 9-13 6 15 8-15 12 8m-175 84l-4-21-10 14-6 15-10-15-5-17-5-20 19 10-10-19m31 53l-4 19 8 10 7-11 8-17 6 14-3 13-11-10-15 1-16-11 4 13m16-21l11 18 14-3 13-7 15-8 0 19-12 5-3-16-3-20 21-9 16-17 4 20 8 17 9-12-4-15-13 10-9 13-14 5 11 10-11 9-15-11-19-7-5-16 11-11 1-15-6-17-8-19 2-15 14 0 16 17 11-17 5 15 8-15 7 18-15 15-16-16-3-17m-41 92l14-15 21 3m-35 12l-20 8-19-3 9-12 11-11 15-3-2-23-15-19 22 2-3-21 14 5-11 16-13-12m300 15l10-17 3-17 17 0m-30 34l-13 16 19 10-20 13 14 15m0-54l-6-14 16-3 18 18m-28-1l-14 1 1 15-1 23-18 4 7-13 11 9-12 21-6-17-8-10 15-3 12-14-15 1 3 13m25-30l-13-8m-235 14l20-7 0-18 15 3 15-5 2 15 16-13 1-15m-69 40l4-23 16-2m-20 25l-20-6-19-3-7 17 17-2 9-12 9-11-1-23m12 40l0 20 16 11-2-19 6-19 12 21 17-8 3-18-15 8-2-18m-35 22l-11-17 15-6m-4 23l14 12 18 2 17 10 21 7 16-7-9-10 13-12 18-10-5 16-13-6-21-3-1-24 20 9-6-24m-82 40l-14 11-15-5-10-15m53 21l-14 8-14-9-15 9 14 6m-29 5l-17-13-14 10-14-10-10 10-9 10 17 2-8-12-18 18-11 12m84-27l15-11-17-12-15 10 2 16-16-6-16 12-16 11-1-13m64-7l18 6-3-17 0-14m-94 148l15 8 6 21 17 0 3 20 24 2 21-10 10-15 13 1-1 16 15 19 8-21 17-11 19 5 22-7 23 10m-212-38l3 17-10 18m7-35l-12-6 4 15-16-1-2-22-19 8-18-11-4-16 15 7-10-12m293-124l-8-19-4-13m12 32l-20-8-19 15-20 7 0 18 12-9 9 16-4 15-13-7m55-47l8 13-13 3-12 6-14 0-16 1 8-16m39-7l14-6-7-11-7 17m7-17l-15-2-12 11 2 18m-24 180l-7 20-15-13 6-14 16 7 0-17 20 0 18-14 12-14 11 21-23-7-4-17 16 3 19 1 21 5m-112 46l-7-12-12 7-7-15-8 10 15 5 4-15m-9-176l17 3-5 18m-111 43l-12-17-3 16-13-5m28 6l-15-1m15 1l6 12 13-9m97 117l13-2 16-10 11-13 9 13 3-20 15 6 5 22-23-8m30-28l-10-10m10 10l-2-13m2 13l10-10 16-6-10-12 13-3 19 2-22 13-7 17-8 20-18 15m-41-198l-18-2m-42 222l-10-12-13 14-22-2-3-14-9-9-5 12-4 21-13-18-11 16-21 12m111-20l-23 2-12-17-13 1-14 3 17 11m45 0l2-16-12 4m-52 1l-11-8-6 11-14-4 8-10 6 14 17-3-5-14m125-5l-15 0m-62-182l-17-8m-89 71l-15 16m202-31l11 8m-11-8l5 12m-5-12l16 3m-49-38l12 10 12 9m-221 115l11 10 14 8-12 14-21-14 8-18-15-2-11 9-10-9-9 10-13 13-18 18m61-41l7 20m-37-10l19-1m-32 14l23 11m322-45l15 4 3-15-4-12m-6 44l-9-11m132-150l-10-8 13-9m-13 9l-6 11m-42 77l10 17-20 9 9 24-22-13-13 14-14-10m50-41l4-12 12-8-13-1m-3 21l-5 12 15 5 12-20-22 3-12 4m16-16l18 9m13-44l-13-12-2 13m-204 20l11 16 17 4-9 10-8-14-3 15m-132 100l13 3-7 18 13-10m-19-11l-5-13m5 13l-12 9-11-8m295-55l-8-17m8 17l15 20m-15-20l2-19m-243 84l4-12m139-115l11 6m-79 8l-6 14m-21-4l2 13m127 51l-11 11-12 7m100-58l13-11 5-14m-297 114l-18-12m-40-81l-10 11m10-11l-14 15m14-15l-17 18m139 63l11 9 0-13m217-84l-15-1 8-10 7 11" stroke-width="6.0"/><path d="M712-522l-33 48-42 0-42 0-42 0-42 0-42 0 33-48 9 48 33-48 9 48 33-48 9 48 33-48 9 48 33-48 9 48 33 0 0-48-42 0-42 0-42 0-42 0-42 0-33 0 0 48" stroke-width="6"/></g>
<path d="M154.0 541.1V536.9H177.9V541.1" fill="none" stroke="#111" stroke-width="1.3"/>
<path d="M106.9 588.5H201.3V541.1H152.9Z" fill="none" stroke="#000" stroke-width="1.0" stroke-linejoin="round"/>
<text x="154.2" y="600.2" font-size="8" text-anchor="middle" fill="#000" stroke="#000" stroke-width="0.15">G</text>
<g transform="translate(210.8 587.9) scale(.1)" fill="none" stroke="#000" stroke-width="9.5"><path d="M595-387l7 1 3-9 7 1 6 2 0-7-6 5 2 8 4-6 6-1 7 4 8 4-2 7-9 1-11-2-9-3-6 5 0-9 6 4 6-4 3 7 6-6 5 8 2 8 6 7-6 5-2 10-12-3 1-8 3-4-1-6 3-4 6-5 8 6 1-7 7 4 10 4 7-10-3-10-8 0-5-5-8 2 2 8-7 2 5 5 7-1 0 5-8 3 0 9 9-3 9-5-3-8-7 4 1 9-9-6-6 2-8-3-5-7-8 5-7-3-6 5-8-3-8-3 1 9 7-6 0 10-7-4-5 2-6-3-6-5-5-4 3-4 6 1-4 7-2-8-3-8-4-5-5 0-5 4-1 8 9 3 6 2-2 6-3 7 6 7-8 2 2-9-7 0-2-7-5 4 7 3 5 9 2 9-1 6-2 6 7 0-5-6-5-4 6-2-6-4 4-5-8-3-4-9-6 6 10 3 3-6 3-7-5 0 1-5-2-6 8-6 3-6 6-1 6-1 0-7 4-7 4-5 4 4 6 5-7 2 0 6 3 6 8 4 1-8 5-4-1-7 8-5 6-3 7 2 6 3 1-7-7 4-1-7-6 5-7-5 1 8 7 4-1-7 0-7-7 2-2-9-8-1-1-9 10-2 5 6 7-7 4-8-7-1 3 9 4 8 2 9 4 8 9-3 8-3 3-8-1-9-1-8 9-5 4 6-6 3-7-4 1-7 8 2 5-8 4-7 5 0 5 0 5 0 5 0 5 0 5 0 5 0 5 0 5 0 5 0 5 0 5 0 6 0 7 0 11 0-4 10-7-10-7 10 0-10m-129 83l-6-3-1 7-8 5-5-4-7 0 6-6 1 6 5-4 0 8-8 2-4-6-2-9 1-7-6-5 6-2 6 2 5 3 5-1 2-7 9-1-5 6 6 1 7-2 3 9-8 0 5 9-7 6 7 3 1 9 3 6-3 7 7-2 6 7-9 0-4-5-3 7-9 3-2-7 3-7-4-6 8-7 0 7-8 0-9 4-1 8-6-4-1 6-6 6 2 9 8 2 9 1 1 10-8 3-1 6-7-4 8-2-8-7 6-7 5-4 4 5-6 6 7 4 1 9 3 11-11-3-5 11-3-8-7-6-5-7-4 7 9 0 8-2 5-3 10 0-9-6 1-7-3-7 1-10-11-1-3 5 5 4 2 9 0 9-8-4-3 6-6-5-5 3-2-6-3-6-4-8-8-6 7-1 1 7-5 7-6 5-5 6 3 7-4 5 0 8 10 2-9 6-1-8-5 8 6 0-2 9-4-9-6 9-8 0-6 1 1-9-1-10 7-4 5 4 2-7-7 3 2-7 5-5-1-6-7 5-7 3-4 6-5 4-2 6-2 7-3 7 2 10-9-8-6 6-6 8-3-10-6-6 6-3 6-3 1 7-7-4-6-5 0 8-7 2-4-4 3-8 7-5 1 7-8-2-1-7-3-6-8-1-6-3-4-4 0-7 5-3-5-4 0 7 6 3-2 8 6-3 0 6 7-5 1 6 6-5 8-1 6-6 0-9 2-6-3-7 8 3-5 4-5-1 2-6-8-7-7 2-5-6-1 7 6-1 6 7 9-2 6-3 2 6 5-5 7 6 9 3 1 9-5 6 6 2 6 3 0-8-7-3 1 8 2 9 5 8-6 6-8 3-8 0 5 7-7 2-8-1 2 7-9-2 0-9 1-9 5 6 5 1 4 7 2-9-6 2-4 6-7 5-8 3 2-9-5-4-2 6-5 6 6 10-12-3-10 4-5 9m177-130l-7 4 0 8 7-5 1 8 7 4-7 3-4 6 8-2 3 6-8 2-4 8 7 5 0 7 3 8 12 3-8-9-7-2-6 4-7 6 8 2 8-4-2 11-6-7-7 7-8 8-2-8m19-73l2-8-2-7m0 15l0 7-7-3-8-3 9-4 8-5-7-3-9 4-7 6 6 2 1-8 2-7 7 3-1-5-4-5 2-7 1-6-8-1-5 5-5-4-10-7 3 12-10 5 8 8 0 6-2 6-2 6 2 6m-36 17l-6 4-5-8-4-5-7-3-1-12m23 24l5-2 6 1-2-9-2-7-4-7 6 0-2 7-5 2 1-9-6 4-7-1 3-11m7 32l-5-5-6 1 1-5-5 0-4 5-4 5-2 9 2 9 4-5-6-4-7 0-6-4-8-3-4 7-2 8-4-6 6-2 5 6-7 2 1 7-6-2 1 8-6-4m62-27l1-7 4 5 4-8 8 3 1-8 4 4m-22 11l4 5 6 7-3 6-8 5-2 5-3 6 10 2 5 8 7 6-6 4-2 10 11 2-4 9-10 0 3-11-5-7-5 5-5-6 5-2 5 3-1-8 7-5-10-2-5-8-8 5 6 2-5 4-8-1 3 6 5 4 0-9 7 3 5-6-7-1 2-7-2-8 7-3 0-7 8 2-3-5 6-1 4 5 8 3-7 4 8 3-4 5-9-1 5 7 7 0 7 3 0-8-7 5-4 6-2 6 7 0 1-6 4 3 7-1 6 1-1 6-4 8-5 10-4-7-8 2-4-6-7 4m90-158l-5 4-1-9 3-9 5 0 5 0 5 0 5 0 5 0 5 0 5 0 5 0 2 8 3-8 3 7 2-7 6 6 4-6 3 7 2-7 4 6 6-6 7 6 3-6 4 5 6-5 0 8 5-8 6 10-3 11 10 0m-110-7l7 2-5-9 5-7 5 9 0-9 7 5 3-5 4 8 1-8 6 7-1-7m-32 14l2-7 0-7m-2 14l-6-5-4-9 7 0 5 7 10 2-5 7 4 8 8-4-5-3-7-1-5 6-7-4 2 8-6 0-7-2 4-7-10-1 1 11-3 6-7-4-6 9-10-1 6-10 10 2m31-15l2 8 3 6 6-4 9 4 6-4 2-9 9 1-5 5 6 3-2 8-4 6 6 2-2-8 8-3 0-8 5-4 0-6 7 5 3 8-4 8-1 7-8 1-8 0 4 7 4-7 2-6 6 5 5 8 3 9 6 6-10 0 4-6-6-2 2 8-6 6-9-3-9 1-6-4-5-5 8-3-7-5-1 8-4 8 9-3 3-8 4 7-7 1-2 7-2 6 8-1 5 6 3-7-6-7 1-5 4 1-5 4-8 3-7-4-9-1 6-5 7-2-7-5 8-3-1-6-2-6-7-3 6-6 8 3 8 1 6 3 4 5 6 5 2-6 7-2-6-5 8-2-4-6 5-8 2-10 1-6m-65 22l9 2-4 9-2-5-4-1 0 4 4-3m-3-6l-1 5-4-1-2 8 7 4 2 6 6 4 4-7 7-4 7-6 4 7 3 9-4 7-2-9-5 4-6-4 5-2 6 2 3-7-5 0-6-1m-19-15l-5 4 4 5 6 2-5 5-5 5-4 5 8 3 3-7-7-1-7-3-6-7-6 6 6 2-4 7-8-3-2-7-7 0-4 10-1 9-1 7-7-6 8-1 8-2-7-7 7-4 4-6 6-5 8 0 0 8 3 5 6 2-3-8-6 1m48-14l4 5m-4-5l0-6m0 6l-6-3 2 7-1 7-4 5m9-16l6-3 6-3-7-5-4-9 6 1 6-1 4 4 4-5-1-6m-20 27l-4 4m5-24l-7 1 2 7m28 39l3-7 9 6-6 3m-6-2l-6 4-4-6-4-5-7 0 3-7 4-5 2-6 4 5 7-2-6-2-5-1-6-5-1-8 2-8 5 6 5-3m7 43l-4-3-6 1-5 4-10-2m-160 43l-11-5-9 8-6-8-9 8-4-7-7 8 9 6 5 5-6 2-4 7-1 9 7 4 3 7 8-2 5-6 6-1 0-8 7-2 0-8 0-7-8 4 2-8 2-11 5 9 6-4 5 5 3 7-8 2-7 3-5 3-3-6-5-5 0-6 7 3 7-2-1 6-6-4-7 3-5 7 10-2m15-14l9-1-4 6 7 2-3-8 8-3-1 6m-16-2l0 8 8 4 5 7-7 2-6 8 8 1 3 6 5 0 1-6-9 0-4 7-9 1 5-9-1-8-6 4 7 4-8 2 3 7 6 5-5 4-6-3 5-6m10-33l-5 3-6-4m168-16l4-5 8 0-5 10-10 2-4-6-8-1 5 6 7 1 3-7 7 5m-7-5l-4-5-3 6 7-1m23-69l-3-10 7 1 6-1 5 4 1-10m-16 16l4-9 4 9-8 0-7 1 2 7 8 0 6 0-2 6 7-3 8 6 4 11-8-6 4-5 11 2-7 9-12-1 4-5-5-4-6-4-2 7-2 10 11-4-2 10 0 9 10-6-10-3m-12-37l-5 8 4 8m-2-26l-8 1-1 7 0 7 7 3-7 5m-3 114l-13 62 56 115-54 150-93 0-93 0-93 0-93 0-93 0-93 0-93 0 304-324 46-49 55-58 37-39-28 30 19-20m229 133l44-13 69 19 137 42 0 93 0 93-75 93-93 0-93 0-52-98-41 98-45-84-48 84-45-135-48 135-103-118-83 118-61-132-32 132-32-65-61 65m662-327l51 48 62-42 32 96 105 39-94 78-74 108-39-150 102-75 105-54 0-93 0-98-90 0 90 98-101-10 101 103m-250-48l13-28 31 15-11-27 38-7 42 53 36-61 11-88-41 0-29 26 5-26m-95 143l-5-29-11 5 16 24-26 10 13 52 64-14-7-61 27-34 78-8-66-30 7-32-27 8 20 24-12 38-32-12m-99-18l0-10-8-4-6-3 5-4 6-6-2-6m5 33l-8-5 0-9 7-4m1 18l7-6 6-5 1 8 5-5 8-1 2-9 6 4 2-7-4-4 0-7-3-10 3-7 6-4-1-8-2-5m-36 66l-5 9m5-9l9 2-6 7 3 7 4-6-1-8 7 3 6 6 6-2 1 6 1 6-4 6m-75-4l4 8 7-2-1 9-3 7 7-1 5 3-6 3-1 9-6 2-6 1-8 0 6 6 1 7-10-1-4 6-6 6 1 10-8-5-8-1 4 6m32-73l4-4 5 2 4-8 8 3-1-7 5-5m-25 19l-7 3 4 5 4 7 9 0-6-7-7 0 3-8-1-9-2-6-6-4-7-10m-188 65l-6 6-5 8 8-2-3-6-2-7-6-1-3-6 3-3 7-8 8-9 27-28 28-30m-56 86l2-9-1-9 0-10 9-8-1 12-8-4-4 6-4 3-3 4-4 4 7-1 0-7-21 22 29-31m-1 28l-8-1 4-5-3-6-3-3m10 15l9-4-7-5-9-3 8-6-4-4m3 22l-4-6 6-3 7-4-8-5-8-1m7 19l7 3 2-7 0-9 0-11-8 6m-1 18l1 8-7-2-10-1-5-9 4-4 6 2-3-5m-7 42l-5-4-7-5-5-8 4-4 6-7 7-7-3 4-4 3-3 4-3 3 5 4-2-7 7 2 0-9 8 5 5 9 2 7 5 4 1 8-1 7 6 4 3-5 5-6 6-5 9 4 3-7 3-6-4-6-6-4-7 1-4 7-7 1-6-6 4-4 2 10-7 7 7 4 7 4 5 8 4 8 3 6-7 2 4-8 9 4-6 2 1 5-8-3-6 9 8 0-2-9-3-7 7-1 8-6-2-11 8 0-5-7-4-8 3-4 3-7-9 3 3 8 7 2 6 0 4-5 7 1 5-5 6-3 6-4 5-8 3 7 7-1 8-2 5 5 1-6 0-7-5 1-6-4-8 0-5 7-7-1 2 9 8-1 4 6 3-7 6 7 3 8 1 5 7-2-8-3 6-5 2 8 3 7 4 5-5 7-9-1-6 5-2-6-6 3 0-6-8 3-5 7 4 7 3-6-7-1-8-5-9-2-6-6-1 8 7-2 5-4-5-4-6 2-7 2 6 6-7 0-7-6-6 4-9-3-1-8 7 3 3 8-4 5-10-2-9 1-7 4-1 8-8 2-2 8-9-2-8 9-5-10 6-7 7 8 0-8-4-6-6 0-7-3-9 4-5-7 7-8 3-3 7-8 7-7-3 4-4 3-3 4-4 4 5 5-1-9 8 2-1-9 8 4 4-8-9 0m17 17l-5 3 0-7-6 4-1-9-7 5-5-6-28 30 18-19-3 4-4 4-3 3-4 4-4 4-5 6-6 7m63-33l8-2 10 4 6-4 0-11 6 7 1-8 7-1-3-6 1-7 6 6 2-8-6-6-8 1 6 7 2-8 5-5 6 0 3-7 1-12-8 8 7 4 4 8 6 3 7-1-6-8 9-8 0 9-3 7-3 7-4-6 1-9-11-2-6 3-1-7-9 1-6 7 4 5-4 4m-30 35l3 5-8-2 3 7 7 0 5 3 7 4 0-8 8-6 6-1m-31-2l1-6-6 2 3-8-6-5 5-5-4-6m122-12l7 5-2-9-2-11-7 8-1 8-7 2 6 5-2 9 7-4 7 1-5 6-2-7m1-13l-4-7-7 4-3-6 4-9-11 3 2 12 5-6-7-6-8 8 5 11 6 1-3 6-3 6 2 7 5-7 9 0 9 3 7 3-5 5-4 7-3-5-6-1 5-4-8-2-4 5 1 6-6 4-7-1 7-6-7-2 7-5 9-1 5-6m8-17l5-4 7-5-1 7-6-2-9-3-10-2m-27 19l6 6-1 8-5-5-6-3 1 8 2 7-4 6 0 8 4 6 5-4-4-6 7-2-3 8 0 10 1 9 9 0 2-7 5 2-2-8 7 2-5 6-7 5 3 5-9 2-3-7-6-4-5 0-4 6-4-9 8 3 0-7 1-10m7-35l-5-8 8 0 3-6 4 7-4 6 0 7 5 4 8 4m-19-14l0 9 0 7-5-2-6 7-2 8-5-5-7 0-8-2 5 9m28-31l-8-1 2 7-6 7 1 8 8 0 3-5 5-2 7 5 0 8-7 2-6-3-1 5m2-31l-6 6-8 0 2 7-7-1-7 0m26-12l6-1 6 3 5 5 7 0 4 6 3 6-7-1m-24-18l3-8 7 1 2-10 10 4 7 6 1-6m-69 90l3-12 5 5 7-1 7 6-7 10-4-9 11-1 10 0 3 11 23 17 38 27 64 43 42-56-53-2 11 58-103 36-151 17 10 118m84-267l8-7 2-5-7 0 6-6 1 6 5 4 7-4 0 10 6-8-1-9-6-1-7-5-1-10-12-2-6 4-7-1-6 4-8 4-7-5-1 7-6-6-5 4-7 0-3-6 0-6-7 3 1-9-8-2 1 7-4-3m72 42l11-1 4-7 1-8-6 4m1 11l-3-6m15-21l-9 3-5 7 7 2-2-9m9-3l-10-7-8-7m18 14l8-4-6-8-3 5-9 0 5-5 1-6 2-7-4-6 3-6-4-7 0-9 5-6 7-6 9 1 8 1 6-3m-28 66l-2 8 1 8 5-7 8 4 7-6 5-6 2-8-8 5-5 5-5-7 5-4 5 6-10-2-9-3 1 7m-1-7l-4-5m84-10l-6-3-6-3-7-3m19 9l3 6 8 0-4 6-8 0 4-6 4 6-4 7-5 7m2-26l7-1 4 7 4 6 6 0 3 4 2-8-8-3 3 7m-21-12l0-6-6-6-6 6 0 9 3 7-6 7-8-2-7 5-9-2 2 9-7-3 1 7-8-2-6 7 7 3 2-5 5-3 6-4 8-1 7-4-8-2-7 7 6 7 6-4-4-4-1-6-2-6 9 1 6-5 2 7 8 3-7 4-5 4-3-6m22-22l-4 4-2-7 6-3 6-2-4-6 8 1 3-8 4 9 1 9-6-3-6-2 4-5-3-7m-19 23l8 1 3 8-8-2-8 0-3-6 4-6-7 0 3 6-7-1-7-1-4-5 6-5 2 5 4-4m-131 25l-6 4-1-7-6-4-8 1m117 8l6 3 6-1m50-83l-2 12-4 8 7 1 0 7-3 5 7 1m-7-22l8-4m-8 4l-9 3 2-7-11 1m18 3l8 2m-8-2l3 9 6 5 7-1-2 7 6 4-6 4m-14-28l-7-4m-78 31l7-5 4-7-5 2-1-5-7-1 2 7 7 4 8-1-6 7-9-1-7-5 7-4 6-1 1 5 2 6-5 6 3 6 5 3 4 6 6-1-2-5 7 0-4-5m-82 103l-48 5-27-40m75 35l23 35-74 72-62-102 69-74-20 22-27 29-22 23 49-52m64 47l-22-23-26 28-43-23m91 18l39-4-16 39-71-30-65 0-33 35 102-109-215 229 243-259m16 99l13-26-35 3-8-27-20 17 2 38-3 102-95-67-49 53-64 67 113-120m419-136l-1-8-8-4 7-3 7 3 6-4 7 1-6 5-4 6-9-4-1-7 0-9-7-4-6-4-7 2 5 7 2-9 7-4 3-8m-181 50l4-5 3-5-8 2 1 8 4 6 1 7m287-135l-1-10-7 4-1 7 9-1 5-6 6 8 2-10 9-4-8-5 0-8 11 2m-334 174l7-1 8-1m111-61l1-9-5 4 4 5 6 3 5-3-5-2-5-7 1-9-5-4-4-6 4-6 5 8-5 4m3 22l0 6 6 4 8 2 0-7m-14-5l-7-1 3-4-7 0-1 6 5-2 0 7-5-5m12-1l6-2 0 5-6 3-7 0 7-6m113-64l-7-6m7 6l2 7-5 6 4 5 7 2-6 4-8 4-5-7m11-21l8 2 3 6-6 5-4 5m-1-18l8-5 0 7m-8-2l-6 7-2-6m-54 7l-4-4-10-2 1 10 1 5m-29 91l7-3 5 6 6 0-2 6m-178 8l-8 0 2 9-9 7 1 12m268-139l8-1-2 7-1 8-9-1-6-2 0 6 1 8-6 6-3 7 6-1 4 5 7-1 6 2-3-6 6-2 4 7 6 5 10 1m-28-48l5-7 8 0 3 6 3 7 7 4 1-6-5-4 0-6m-22 6l-2-8-7-3 2 8 5-5 7 1 3 6 8 0 6 1-3 6m174 11l-26-52 37-36m-37 36l-4-36m4 36l-33-10m33 10l-40 22-31 10 19 28m-316 91l5 4 8 1 3 8 6-7-9-1-5 5 8 3m-25-11l-8 6 8 8 9-6 6 7 2-7-8 0-2-5 7-1 3 6m-17-8l-10-1-7 5 4 8 5-6-9-2-6-2-6-4 5-4m24 6l1 6-1 8m81-34l7 0 7 4 0-8-4-5-4-5m-6 14l-5 2 6 4 7 4 5 8 0 10-6-9-7-5-7-5 2 8-3 9-10 2 3 10m15-38l1 6-1 8 8-4 7 2-2 6m64-108l-7 0-7 1-7-2-1-8 10-1-4 5m16 5l-5-6-7-4 7-2 2-6 0-7 8 4-1-9 10-1m-14 31l7-4-6-3 6-5 5-3 5 5 6-2m77 13l-5-7 3-8 7-7 2 10 2 10-9 2 1-8 6-4m-403 144l28 10m220-127l2-7 5 5-1 8-6 2 0-8 6 6 8-3-7-5-7 2-9-2m-88 61l-4 7 2 8 6-5 1 7 7-4-8-3-8-3-3-8-3-3-5-3 1-7 6-4 1-8m164 15l-9 0-7-2 5-7-9 0-6 7 10 0-4-7 4-4-3-3-5-5 5-3 6 6m-74 36l8-1 3-8-7-5 5-7 3-7 6-6 6 7-7-1-1 6 2 8-7-1-2-6-7 0 2 7-6 5-6 6 0-8-5 4-2 5 7-1-3 7-8 0 4 6 6 7m-138-35l-6-4-4 7 6 0-4 8 9-4-1-7 2-6m-2 6l8 0 6-9 5 1m-19 8l-4 3m-5-23l-7-2m7 2l3-4 4-6m-7 10l-2 7-8 4 1 10-10 3m328-56l3-5-3-5-5 4m-68 34l-5-3-6-5-1 8-7-6-9 2 5 3 0 6-3 4 1 7 5-1m-38 252l10-87 76 73 106-52 8-129 94 54 11 117 19 108 75 0 0-93-94-15-113-42-90-43 34-72-37-13-4 34 41-21-24-34m-112 215l-93-51 39-79 21-32 25-9 7 26-32-17-28 4 7 28 53-15 37-26 16 28 50 34-92 22m-10 87l86-14 16-95-7-51-43 17 18-35 29-16m-49-88l7-4 2-6-8 1m-1 9l4 6-1 6-7 3 0 8-1 7m5-30l8 3 1 6 7-4 2-8-5-3 4-6m-70 70l6 2 1-8-7 6 3 8 8 0m-4-14l-2-7m1-22l-1 7 5 2 5 2 2 6 6 1 0-6-3-6 8-1m51-14l6-1 5 5 7-2 3-7 3-9 7 4m-31 10l-5 3-8 5-9 8m22-16l-4-5 7-2 3 6 5-8-4-4m-142 9l5 5 1-7m44 69l6 6 10 0 9 6-1-10-6-5m-18 3l-1-8 5-4 5 1 3 8-7-1-1-8m-4 12l5-4 1 10m18-4l-8 4m-52-7l0-8-4-7-6 8-2-10 5-6 7 2 4-7-1-7m20-27l1-7 6 7m-6 8l4 8 4 6 7-1 10 3 8-4-3-7m69-6l-6 4-1 8m-41-22l1-5-7 4-4 6 8 0-4 5m6-10l-6-1-3-7-7 6-10-1-9-2-8-1m43 6l-2 5 7-2m152-112l-2-6m2 6l-1 8-1 9 6 4 1-8 8-3-7-4-6-6 7-1 1-5m-8 6l-8 4 7 4-7 5-1 8-5-3-1-8 7-6 0 9 6 4 7-4-6-5 7-2 7-4-6-3-1 7-1 7 7 6 1-9m-395 161l5 3-5 5m5-12l-9-2-3 6-9-2-10-3-8-4m39 5l3-7 5-5 2 5-3 6 8-3 0-7 7 3m-22 8l7-1-4-6-9-1-3 6-6-6-6-6 7-7 2 7-3 6 9 0 6-6-6-3-8-4m14 21l-6-8-6-6-9 0-7 5-3 8-12 0 4 8-8-4m47-3l0 7 6-1 4 5 4-7 8 5 5-2-5-7 0 9 0 7 4 9-10 6-2-12 8-3-6-4-2-8m135 10l-1 10-5-4m115-117l-8-1 0-8-2-9-8 3m104-21l1 7-1 5m22 10l-3 11-11 5-8-6-3-7-4-3 2-6-6 5m-77 48l-3-6 0-5-6 2 1 7 5-4m3 6l-8-2-4 3m12-1l6 4-1 8 1 8-5 3-4-6 9 3 6 5 7-4 2-8 7 5 9-7 7-6 7-1m-361 239l-144-14m321-157l-6 2-1 5 5-1 5 7-4 9m67 38l15-31m3-119l6-2 8-3-6-6-6 4 4 5-4 9 9-5 3-7m-12-2l-1-11-5 11m82-38l3-6 5-6 6-3 1 7 6 1 2 9m-103 58l-1 7 0 8m96-114l-8 2-6 8-1-9 3-8-9 0-12 0m25 9l-7-1-6-8m-198 163l7-2 3-8m188-69l6-2m-244 84l-1 5 5 3m31 4l-2 5-3-5m6-67l5 7 3 7m-49 116l41 14 59 1m-100-15l-26-22 29 0m-3 22l28-15 34 3-21 26 20 80-77-55 57-25-13-29m62-96l2 9 8 2m226-125l7 3-6 5m-189 155l6-6 6 4 4-7 3-6m-145-49l3-4 3 4-4 5-7 0-4-3 5-5-9 0m13 3l2 5 6 2m-8-7l-4-3 6-8-6-8-8-7m56 103l-6 3 8 2 5-6 5-4 1-7m120-56l-7-4 4 8m-4-8l-4-6-10-1-5 6m-172 61l4-5-3-6m-1 11l6 2-2-7 4-5-4-6-1-5-7-1-8 4-5 4m17 14l1 7 7 4m248-83l7-4 4 8m-1 8l1 8 7 7m4-12l8-5 0-10-10-2 4-5m-2 22l-5-9 3-8-4-8-6 0 1-7m11 32l-11 5-6 6-4-7 0-7m138-62l-29-10m-183 114l8 1-2-5m-175-30l8-2 1-6m-9 8l-8 0-6 5 8 1 1 8 4 5 2 6 4-5 4-6-7-1 4-7m-6-6l-6 6-2-6m146 18l0 6m0-6l-7 1m7-1l5-7-4-6-7 1-3 6m-54 53l-5-6 2-8m3 14l0-5-5-1-4 5-3-5 7 0m5 6l10 1m114-140l7-5m-112 79l1-9 8 1m196-85l6-1 1-4 2-6m-275 159l1 5 2 7 9 0m49-22l10-1 6 6 2-7 8 0-4-6-4 6-8 1m164-85l-9-2m-7-51l-5-1 1-7m-193 107l-6 3 1 9m10-32l1 8 4 5 2-7-6 2m31 13l-5 5 2 8-4 4m156-127l-5 3m5-3l0 9 6 0 0 7m-6-16l-6-8 9-8m47 58l-2 8-3 6-6 1m-185 38l-9 2m9-2l8-6m-8 6l5 6m-43 104l31-1m92-60l6 4-1-6 5-5-8-3 5-3 3 6 5 8 11-2 1-8-2-7-5 3-3-7 8-5m-25 25l-3-5-3 5m6 0l5-2-3-8-5 5 8 3 10 3-9 3m25-84l-3 6 4 4m88-33l-2-9 9 2 8 4m-12 10l-6 1-8 1-6-5-7 2m31-13l2-7 7-4-7-2 0 6-5-4-5 0-1 9-6-9-6-2-2-7m-331 127l0-9-6 3m241-79l5 5m-76 110l9-2 6-5m-25 9l-11 4m-74-57l-2 6 7-3m155-55l-5 1-5-4 2-9 7-2m80-34l4-5-1-6 7 1-6 5 6 2m-168 98l-2 8 7 5 5-5 5-6-7-1 2 7 1 7-6-2m59-79l7 7 6-10m-65 115l5 1 5-3 1 10-6-7m-139-67l-7 0 3 5-8 6-2 9 7 0m320-123l7-2 5 3m42 8l-8 2m-143 121l-9 1-1 6m10-7l-9-7-6-6m15 13l1-7m32-80l-7-6 7-3-1-7-6-1 1 5m-81 90l8-5m102-6l-10-1-9 3 6 3 1 6m-280-5l6 5 3 7 2 8-5 7 7 1-2-8-7-4 5-4-8-2 3 6m297-44l-7-4-3-4-7-2 4 8 6-2m14-93l7-4 7 3-6 5-8-4 2 8m-310 181l2-11 10 5 2-7 6-3 6 5-2 11m57-51l-5 5m132-13l-8-1 5-5m-119 28l6 0m-72 12l9 2 7 0-3-5 5 1-2 4-5 7-5 5-6 2m160-31l-6 2-3 9m-69-19l8 0-4 5m115 3l-5-6 6 0m-183-47l-6-4 9-5-3 9 3 7-1 8m221-76l-3-6-4-11m-241 158l-6-1 4 8m267-59l3-6m-185 64l0-7 5 3m-104-7l4 7 6-3m151-56l1-6-5-5m29 3l-4-4 3-6 4-6-8 0 4 6 4 6m-29 42l-5-4m195-109l-5 2m-254 135l-4-6m-84-32l5-5m32 8l-5 3-6 4 1 5m10-12l3-6 3 7-6-1m11-36l-7 1m241 114l-25-18-34 7 17-23m4-25l8-3-7-5-7-4m52-57l-3 6-10-2m-207-53l-19 20m277 31l11 2m26-59l-9-6 8-3 1 9m-159 109l1-7 5 1 3 6-9 0m-40-47l-7 2 7 4 0-6m-187 79l-10-3-3-9-8 8 11 1 7-6 3 9m130-34l3 6 4-5-7-1"/><path d="M298-248l13-15-21-12-19-13-15 16 9-9 25 6 20-1 15 4-7-13-13-1-15 11-6-15-13 2m40 25l-1-13m1 13l22 12 17-9-11-6-6 15-8-21 14 6m-28 3l14-9 12-6 12 6 14 5-13 7 12 9 16-8 20 1-13-11m-140 9l11-12 14 14-5-23m-20 21l-16 17m16-17l25 2m284-33l-16 4-7-11m23 7l12 13 7-17 16-8 0 17 23 8 13-21-12-23 11-13 15-4 23 12m-108 36l19-4 16 9-23 8 17 16 6-24 17-15-17-2 10-11 14-8-2-14 13 1 4-12 11 8 7-12-10-11m-82 71l-12-5m12 5l-9 16-7-12-9 10 16 2 21-3m150-144l-2 20-13 16-6 19-21-10 1 22 20-12-10-17 16-2-15-11-1 13-11 7-13-3 4 12 9-9-8-13m50-32l-13-4-4 12 15 12-15 2 2 14m15-36l-17 8-8-13m25 5l9-14 6-13 21 5-14-16 19-10 24 0m-65 48l-6-13 15-1-4-13m4 13l-13-9m-303 65l5-16 14-10 6-24-10-20 9-10 9-10 13 0 13 0 14 0 13 0 14 0 13 0 14 0 13 0 14 0 13 0 14 0-6 15-8-15-9 20-4-20-18 14 4-14m-140 90l-9 12-19-6-13-17 9-10 10-10 9-10 9-10 9-9 10-10 17 2 1-22 16 17 10-17 8 18 6-18 7 15 6-15 7 21 7-21 14 16 13-16 9 14 22 6 7 17-14 5 7-22 17-5 6 14 9-13 3-16m-193 90l13 11 2-16-10-11-3-17-6-18 15 6-6-15 20 10 23 1 17-7-16-17-3-17m-46 90l-20-7-12-14 20 0-1-20 15 8 17 7 13 20 16-5 9 13 15 0 19-8 5-25 9-23 9-20-1-16m-113 90l15-5 4-21 19-2-13-22 7-18-8-12m-24 80l-12-21-10-10m22 31l5 19-14-7 8 10m-27-16l10 14m-10-14l8-13-21-4-9 10m22 7l-14 0 1-17-18 18m349-27l-10-8m10 8l0-14m0 14l-13 3-13-5m-224 126l11 7-15 2-9 11-15 15-3-16-20-1 10-9 10 10 18 1 16 14 6-14 22 10 11-18 14 9 22-5 22 5-4-20-18 15-11-11-11 16-3-18-11 9-10-11-7 12 6 17m-118-5l-3 22m3-22l1-16 15 8 9 15 11-14m-36 7l25 7m100-197l-13 5 18 8 22-6-12-15 21-5 22-2 3 16 19-10 13 7 4-12 15 1-9-16m-103 29l15-8-10 21-9 19-18 1 8 15-7 15-13 1 4-14 8-17-8-21 1-24 18 1-2 16-1 15 10 12 22-2 18 3-7 14-16 8-8 13m-5-68l5 13 13 17 11 17 10 8m-39-55l-11-11 13-3 13 6m-15 8l2-14m56-1l-13 18-18 4 11 12-20 11-17 15 12 10 13 3m67-39l-6-11-4 12m-113-8l-10 21 18 0 8-13-16-8-16-19 17-5m-95 186l-5-12m190-161l12 12-7 17-16 1-14 2 2-14 12 12 5-15 6-15-16 2-9-16m156 46l7 11m-186 11l9 9m-95-19l-17-5 14-12 9-12 8 19m246 29l1-15 10 8m-125-44l-18 3-17 3 7-16 10 13 11 14-9 11-13 3-8-11m201-52l7 11 7-11-14 0-11 6m-240 33l19-7m-47 161l13 11 16-7 17-1-1-13 12 4 14 2 13-6-2 17m-91 4l-3-14m3 14l22 0 2-13 14 6m-38 7l-13-10-15-1-13-2m142-141l-6 13-15 3 4 12m92 104l-6-23 19 2 11-18-12-18m-204-90l14-5m68 157l8-10 6 12 4-12m53-12l-14-6m-118-85l-8 14 13 3-5-17 12 9m-12-9l6-22 10 17 16-2 10-16 5 13-7 18-8-15 15-3m-47 10l-17 1 9 13 6 11m-42-40l-8 14 11 19m246 17l-1-14 12 9-3-14m-364 95l5-14m33-60l14-15-10 11m-38 40l10-11 17-18-10 11m-17 18l-10 11m10-11l-14 15m356-54l3 13-3 22-23-5-7 21-7-13-13 0m171-156l-15 0m-67 115l-18-1 8-12 10 13" stroke-width="6.0"/><path d="M442-522l0 52 42 0 42 0 42 0 42 0 42 0 44 0 0-52-42 0-2 52-40-52-2 52-40-52-2 52-40-52-2 52-40-52-2 52-42-52 44 0 42 0 42 0 42 0 42 0 42 52" stroke-width="6"/></g>
<path d="M255.2 540.9V536.3H280.2V540.9" fill="none" stroke="#111" stroke-width="1.3"/>
<path d="M210.8 587.9H302.0V540.9H255.0Z" fill="none" stroke="#000" stroke-width="1.0" stroke-linejoin="round"/>
<text x="256.7" y="598.7" font-size="8" text-anchor="middle" fill="#000" stroke="#000" stroke-width="0.15">H</text>
<path d="M318 521.5H420.8V613H318Z" fill="none" stroke="#222" stroke-width="1"/>
<path d="M318 535.6H420.8M352.3 521.5V613M386.4 521.5V613" stroke="#222" stroke-width="0.9"/>
<g font-size="8.2" fill="#000" stroke="#000" stroke-width="0.08"><g font-size="8.5"><text x="335.2" y="530.8" text-anchor="middle">Mesh</text><text x="369.6" y="530.8" text-anchor="middle">Elems</text><text x="403.8" y="530.8" text-anchor="middle">Nodes</text></g><text x="335.2" y="544.4" text-anchor="middle">A</text><text x="378.2" y="544.4" text-anchor="end">36</text><text x="412.8" y="544.4" text-anchor="end">91</text><text x="335.2" y="553.7" text-anchor="middle">B</text><text x="378.2" y="553.7" text-anchor="end">228</text><text x="412.8" y="553.7" text-anchor="end">501</text><text x="335.2" y="562.9" text-anchor="middle">C</text><text x="378.2" y="562.9" text-anchor="end">622</text><text x="412.8" y="562.9" text-anchor="end">1309</text><text x="335.2" y="572.2" text-anchor="middle">D</text><text x="378.2" y="572.2" text-anchor="end">769</text><text x="412.8" y="572.2" text-anchor="end">1598</text><text x="335.2" y="581.5" text-anchor="middle">E</text><text x="378.2" y="581.5" text-anchor="end">1577</text><text x="412.8" y="581.5" text-anchor="end">3212</text><text x="335.2" y="590.8" text-anchor="middle">F</text><text x="378.2" y="590.8" text-anchor="end">1645</text><text x="412.8" y="590.8" text-anchor="end">3348</text><text x="335.2" y="600" text-anchor="middle">G</text><text x="378.2" y="600" text-anchor="end">1521</text><text x="412.8" y="600" text-anchor="end">3100</text><text x="335.2" y="609.3" text-anchor="middle">H</text><text x="378.2" y="609.3" text-anchor="end">1694</text><text x="412.8" y="609.3" text-anchor="end">3445</text></g>
<g font-size="8" fill="#000" stroke="#000" stroke-width="0.12"><text x="83" y="633.8" textLength="364.2" lengthAdjust="spacingAndGlyphs" xml:space="preserve"><tspan font-weight="bold">Fig. 6.12</tspan>  A <tspan font-style="italic">p</tspan> − <tspan font-style="italic">δ</tspan> diagram of elasto-plastic slope aiming at 2.5% error in ultimate load (15% incremental</text><text x="83" y="643.7" textLength="364.2" lengthAdjust="spacingAndGlyphs" xml:space="preserve">energy error) with use of quadratic triangular elements (T6/38). Mesh A: <tspan font-style="italic">u</tspan> = 0.0 (coarse mesh).  Mesh B:</text><text x="83" y="653.5" textLength="364.2" lengthAdjust="spacingAndGlyphs" xml:space="preserve"><tspan font-style="italic">u</tspan> = 0.025.  Mesh C: <tspan font-style="italic">u</tspan> = 0.15.  Mesh D: <tspan font-style="italic">u</tspan> = 0.3.  Mesh E: <tspan font-style="italic">u</tspan> = 0.45.  Mesh F: <tspan font-style="italic">u</tspan> = 0.6.  Mesh G: <tspan font-style="italic">u</tspan> = 0.75.</text><text x="83" y="663.4" textLength="364.2" lengthAdjust="spacingAndGlyphs" xml:space="preserve">Mesh H: <tspan font-style="italic">u</tspan> = 0.9. The last mesh (mesh <tspan font-style="italic">H</tspan>, named as the ‘optimal mesh’) is used for the solution of the problem</text><text x="83" y="673.3" textLength="170.8" lengthAdjust="spacingAndGlyphs" xml:space="preserve">from the first load step, without further refinement.</text></g>
</svg>
</body></html>
